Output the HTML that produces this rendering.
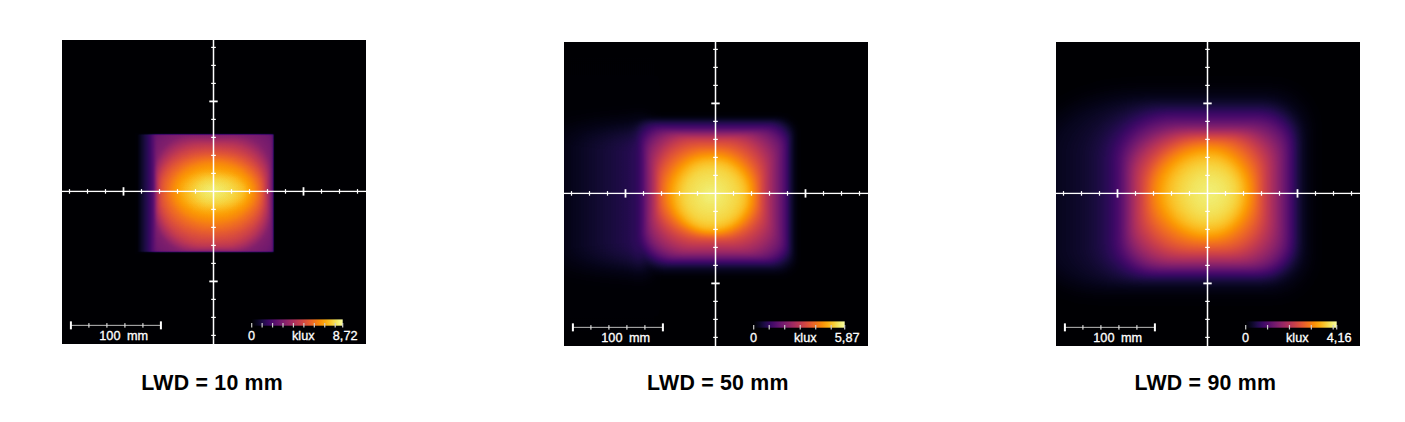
<!DOCTYPE html>
<html><head><meta charset="utf-8"><style>
html,body{margin:0;padding:0;background:#fff;}
body{width:1405px;height:422px;position:relative;overflow:hidden;font-family:"Liberation Sans", sans-serif;}
.lbl{position:absolute;top:370.8px;font-weight:bold;font-size:21.33px;letter-spacing:0.22px;color:#000;white-space:nowrap;}
</style></head><body>
<div style="position:absolute;left:62px;top:40px;width:304px;height:304px;">
<svg width="304" height="304" viewBox="0 0 304 304" style="display:block">
<defs>
<filter id="cm1" filterUnits="userSpaceOnUse" x="0" y="0" width="304" height="304" color-interpolation-filters="sRGB">
<feComponentTransfer><feFuncR type="table" tableValues="0.001 0.006 0.014 0.026 0.042 0.061 0.082 0.105 0.129 0.156 0.183 0.211 0.238 0.265 0.291 0.316 0.342 0.367 0.391 0.416 0.441 0.466 0.491 0.516 0.541 0.566 0.591 0.616 0.640 0.665 0.689 0.712 0.736 0.758 0.781 0.802 0.822 0.842 0.861 0.878 0.894 0.909 0.923 0.936 0.947 0.957 0.965 0.973 0.978 0.983 0.986 0.988 0.988 0.987 0.984 0.980 0.975 0.968 0.961 0.953 0.948 0.947 0.955 0.971 0.988"/><feFuncG type="table" tableValues="0.000 0.005 0.011 0.019 0.028 0.037 0.043 0.047 0.047 0.045 0.040 0.037 0.037 0.040 0.046 0.053 0.062 0.072 0.081 0.090 0.099 0.108 0.117 0.126 0.135 0.144 0.153 0.162 0.171 0.182 0.192 0.204 0.216 0.229 0.243 0.259 0.275 0.293 0.312 0.332 0.353 0.376 0.399 0.424 0.449 0.475 0.502 0.530 0.558 0.587 0.616 0.645 0.675 0.706 0.736 0.767 0.798 0.829 0.859 0.889 0.917 0.943 0.966 0.985 0.998"/><feFuncB type="table" tableValues="0.014 0.039 0.072 0.106 0.141 0.178 0.215 0.253 0.291 0.325 0.355 0.379 0.396 0.409 0.419 0.425 0.429 0.432 0.433 0.433 0.432 0.429 0.426 0.421 0.415 0.408 0.400 0.391 0.381 0.370 0.358 0.344 0.330 0.315 0.300 0.283 0.266 0.249 0.231 0.212 0.194 0.175 0.155 0.135 0.115 0.095 0.074 0.053 0.035 0.025 0.026 0.040 0.065 0.096 0.130 0.166 0.206 0.250 0.298 0.351 0.411 0.475 0.540 0.602 0.645"/></feComponentTransfer>
</filter>
<clipPath id="cp1"><rect x="0" y="0" width="304" height="304"/></clipPath>
<filter id="bl1" filterUnits="userSpaceOnUse" x="-60" y="-60" width="424" height="424" color-interpolation-filters="sRGB"><feGaussianBlur stdDeviation="1.8"/></filter>
<linearGradient id="mx1" gradientUnits="userSpaceOnUse" x1="0" x2="304" y1="0" y2="0"><stop offset="0.0000" stop-color="#000000"/><stop offset="0.2253" stop-color="#000000"/><stop offset="0.2319" stop-color="#010101"/><stop offset="0.2336" stop-color="#030303"/><stop offset="0.2352" stop-color="#060606"/><stop offset="0.2368" stop-color="#0c0c0c"/><stop offset="0.2385" stop-color="#171717"/><stop offset="0.2401" stop-color="#282828"/><stop offset="0.2418" stop-color="#404040"/><stop offset="0.2434" stop-color="#5e5e5e"/><stop offset="0.2467" stop-color="#a1a1a1"/><stop offset="0.2484" stop-color="#bfbfbf"/><stop offset="0.2500" stop-color="#d7d7d7"/><stop offset="0.2516" stop-color="#e8e8e8"/><stop offset="0.2533" stop-color="#f3f3f3"/><stop offset="0.2549" stop-color="#f9f9f9"/><stop offset="0.2566" stop-color="#fcfcfc"/><stop offset="0.2599" stop-color="#ffffff"/><stop offset="0.2862" stop-color="#ffffff"/><stop offset="0.6908" stop-color="#fefefe"/><stop offset="0.6924" stop-color="#f9f9f9"/><stop offset="0.6941" stop-color="#e0e0e0"/><stop offset="0.6957" stop-color="#a1a1a1"/><stop offset="0.6974" stop-color="#4f4f4f"/><stop offset="0.6990" stop-color="#171717"/><stop offset="0.7007" stop-color="#040404"/><stop offset="0.7023" stop-color="#000000"/><stop offset="1.0000" stop-color="#000000"/></linearGradient>
<linearGradient id="my1" gradientUnits="userSpaceOnUse" x1="0" x2="0" y1="0" y2="304"><stop offset="0.0000" stop-color="#000000"/><stop offset="0.3043" stop-color="#000000"/><stop offset="0.3059" stop-color="#040404"/><stop offset="0.3076" stop-color="#171717"/><stop offset="0.3092" stop-color="#4f4f4f"/><stop offset="0.3109" stop-color="#a1a1a1"/><stop offset="0.3125" stop-color="#e0e0e0"/><stop offset="0.3141" stop-color="#f9f9f9"/><stop offset="0.3158" stop-color="#fefefe"/><stop offset="0.3273" stop-color="#ffffff"/><stop offset="0.6908" stop-color="#ffffff"/><stop offset="0.6924" stop-color="#fdfdfd"/><stop offset="0.6941" stop-color="#f3f3f3"/><stop offset="0.6957" stop-color="#cbcbcb"/><stop offset="0.6990" stop-color="#343434"/><stop offset="0.7007" stop-color="#0c0c0c"/><stop offset="0.7023" stop-color="#020202"/><stop offset="0.7039" stop-color="#000000"/><stop offset="1.0000" stop-color="#000000"/></linearGradient>
</defs>
<g clip-path="url(#cp1)">
<g filter="url(#cm1)" style="isolation:isolate">
<rect x="0" y="0" width="304" height="304" fill="#000"/>
<g filter="url(#bl1)" style="isolation:isolate"><rect x="-60" y="-60" width="424" height="424" fill="#000"/><path d="M95.41 80.16H211.09A3.24 3.68 0 0 1 214.33 83.84V220.64A3.24 3.78 0 0 1 211.09 224.42H95.41A3.06 3.78 0 0 1 92.35 220.64V83.84A3.06 3.68 0 0 1 95.41 80.16Z" fill="#030303"/><path d="M95.57 80.88H210.82A3.34 3.76 0 0 1 214.15 84.64V219.78A3.34 3.86 0 0 1 210.82 223.64H95.57A3.16 3.86 0 0 1 92.41 219.78V84.64A3.16 3.76 0 0 1 95.57 80.88Z" fill="#050505"/><path d="M95.67 81.37H210.54A3.43 3.85 0 0 1 213.97 85.21V219.20A3.43 3.95 0 0 1 210.54 223.16H95.67A3.26 3.95 0 0 1 92.41 219.20V85.21A3.26 3.85 0 0 1 95.67 81.37Z" fill="#080808"/><path d="M95.82 81.79H210.32A3.53 3.94 0 0 1 213.85 85.72V218.63A3.53 4.04 0 0 1 210.32 222.68H95.82A3.35 4.04 0 0 1 92.47 218.63V85.72A3.35 3.94 0 0 1 95.82 81.79Z" fill="#0a0a0a"/><path d="M95.92 82.21H210.11A3.62 4.03 0 0 1 213.73 86.24V218.17A3.62 4.14 0 0 1 210.11 222.32H95.92A3.45 4.14 0 0 1 92.47 218.17V86.24A3.45 4.03 0 0 1 95.92 82.21Z" fill="#0d0d0d"/><path d="M96.07 82.57H209.89A3.72 4.12 0 0 1 213.61 86.69V217.72A3.72 4.24 0 0 1 209.89 221.96H96.07A3.54 4.24 0 0 1 92.53 217.72V86.69A3.54 4.12 0 0 1 96.07 82.57Z" fill="#0f0f0f"/><path d="M96.17 82.87H209.73A3.82 4.22 0 0 1 213.55 87.09V217.26A3.82 4.33 0 0 1 209.73 221.60H96.17A3.64 4.33 0 0 1 92.53 217.26V87.09A3.64 4.22 0 0 1 96.17 82.87Z" fill="#121212"/><path d="M96.33 83.23H209.51A3.92 4.31 0 0 1 213.43 87.54V216.81A3.92 4.43 0 0 1 209.51 221.23H96.33A3.74 4.43 0 0 1 92.59 216.81V87.54A3.74 4.31 0 0 1 96.33 83.23Z" fill="#141414"/><path d="M96.43 83.53H209.36A4.02 4.41 0 0 1 213.37 87.93V216.41A4.02 4.53 0 0 1 209.36 220.93H96.43A3.84 4.53 0 0 1 92.59 216.41V87.93A3.84 4.41 0 0 1 96.43 83.53Z" fill="#171717"/><path d="M96.52 83.83H209.14A4.11 4.50 0 0 1 213.25 88.32V216.01A4.11 4.62 0 0 1 209.14 220.63H96.52A3.93 4.62 0 0 1 92.59 216.01V88.32A3.93 4.50 0 0 1 96.52 83.83Z" fill="#1a1a1a"/><path d="M96.68 84.13H208.93A4.20 4.59 0 0 1 213.13 88.72V215.62A4.20 4.72 0 0 1 208.93 220.33H96.68A4.03 4.72 0 0 1 92.65 215.62V88.72A4.03 4.59 0 0 1 96.68 84.13Z" fill="#1c1c1c"/><path d="M96.78 84.43H208.77A4.30 4.68 0 0 1 213.07 89.11V215.22A4.30 4.81 0 0 1 208.77 220.03H96.78A4.13 4.81 0 0 1 92.65 215.22V89.11A4.13 4.68 0 0 1 96.78 84.43Z" fill="#1f1f1f"/><path d="M96.88 84.73H208.55A4.40 4.77 0 0 1 212.95 89.50V214.83A4.40 4.90 0 0 1 208.55 219.73H96.88A4.22 4.90 0 0 1 92.65 214.83V89.50A4.22 4.77 0 0 1 96.88 84.73Z" fill="#212121"/><path d="M97.03 85.03H208.40A4.49 4.86 0 0 1 212.89 89.89V214.44A4.49 5.00 0 0 1 208.40 219.43H97.03A4.32 5.00 0 0 1 92.71 214.44V89.89A4.32 4.86 0 0 1 97.03 85.03Z" fill="#242424"/><path d="M97.13 85.33H208.18A4.59 4.95 0 0 1 212.77 90.27V214.05A4.59 5.09 0 0 1 208.18 219.13H97.13A4.42 5.09 0 0 1 92.71 214.05V90.27A4.42 4.95 0 0 1 97.13 85.33Z" fill="#262626"/><path d="M97.28 85.63H207.97A4.68 5.03 0 0 1 212.65 90.66V213.66A4.68 5.18 0 0 1 207.97 218.83H97.28A4.51 5.18 0 0 1 92.77 213.66V90.66A4.51 5.03 0 0 1 97.28 85.63Z" fill="#292929"/><path d="M97.38 85.99H207.81A4.78 5.12 0 0 1 212.59 91.10V213.21A4.78 5.26 0 0 1 207.81 218.47H97.38A4.61 5.26 0 0 1 92.77 213.21V91.10A4.61 5.12 0 0 1 97.38 85.99Z" fill="#2b2b2b"/><path d="M97.48 86.29H207.60A4.87 5.20 0 0 1 212.47 91.49V212.82A4.87 5.35 0 0 1 207.60 218.17H97.48A4.71 5.35 0 0 1 92.77 212.82V91.49A4.71 5.20 0 0 1 97.48 86.29Z" fill="#2e2e2e"/><path d="M97.63 86.65H207.39A4.96 5.28 0 0 1 212.35 91.93V212.44A4.96 5.44 0 0 1 207.39 217.87H97.63A4.80 5.44 0 0 1 92.83 212.44V91.93A4.80 5.28 0 0 1 97.63 86.65Z" fill="#303030"/><path d="M97.73 87.07H207.18A5.05 5.35 0 0 1 212.23 92.42V212.00A5.05 5.52 0 0 1 207.18 217.51H97.73A4.90 5.52 0 0 1 92.83 212.00V92.42A4.90 5.35 0 0 1 97.73 87.07Z" fill="#333333"/><path d="M97.88 87.49H206.91A5.14 5.42 0 0 1 212.05 92.91V211.56A5.14 5.60 0 0 1 206.91 217.15H97.88A4.99 5.60 0 0 1 92.89 211.56V92.91A4.99 5.42 0 0 1 97.88 87.49Z" fill="#363636"/><path d="M97.98 87.91H206.65A5.22 5.49 0 0 1 211.87 93.40V211.12A5.22 5.68 0 0 1 206.65 216.79H97.98A5.09 5.68 0 0 1 92.89 211.12V93.40A5.09 5.49 0 0 1 97.98 87.91Z" fill="#383838"/><path d="M98.13 88.33H206.38A5.31 5.56 0 0 1 211.69 93.89V210.68A5.31 5.75 0 0 1 206.38 216.43H98.13A5.18 5.75 0 0 1 92.95 210.68V93.89A5.18 5.56 0 0 1 98.13 88.33Z" fill="#3b3b3b"/><path d="M98.23 88.75H206.12A5.39 5.63 0 0 1 211.51 94.38V210.30A5.39 5.83 0 0 1 206.12 216.13H98.23A5.28 5.83 0 0 1 92.95 210.30V94.38A5.28 5.63 0 0 1 98.23 88.75Z" fill="#3d3d3d"/><path d="M98.38 89.23H205.85A5.48 5.69 0 0 1 211.33 94.92V209.86A5.48 5.91 0 0 1 205.85 215.77H98.38A5.37 5.91 0 0 1 93.01 209.86V94.92A5.37 5.69 0 0 1 98.38 89.23Z" fill="#404040"/><path d="M98.48 89.65H205.54A5.55 5.75 0 0 1 211.09 95.40V209.48A5.55 5.99 0 0 1 205.54 215.47H98.48A5.47 5.99 0 0 1 93.01 209.48V95.40A5.47 5.75 0 0 1 98.48 89.65Z" fill="#424242"/><path d="M98.63 90.07H205.28A5.63 5.82 0 0 1 210.91 95.89V209.10A5.63 6.07 0 0 1 205.28 215.17H98.63A5.56 6.07 0 0 1 93.07 209.10V95.89A5.56 5.82 0 0 1 98.63 90.07Z" fill="#454545"/><path d="M98.73 90.55H204.96A5.71 5.87 0 0 1 210.67 96.42V208.67A5.71 6.14 0 0 1 204.96 214.81H98.73A5.66 6.14 0 0 1 93.07 208.67V96.42A5.66 5.87 0 0 1 98.73 90.55Z" fill="#474747"/><path d="M98.88 90.97H204.70A5.79 5.93 0 0 1 210.49 96.90V208.30A5.79 6.22 0 0 1 204.70 214.51H98.88A5.75 6.22 0 0 1 93.13 208.30V96.90A5.75 5.93 0 0 1 98.88 90.97Z" fill="#4a4a4a"/><path d="M98.98 91.45H204.38A5.86 5.98 0 0 1 210.25 97.44V207.92A5.86 6.29 0 0 1 204.38 214.21H98.98A5.85 6.29 0 0 1 93.13 207.92V97.44A5.85 5.98 0 0 1 98.98 91.45Z" fill="#4c4c4c"/><path d="M103.90 91.93H199.30A10.71 10.88 0 0 1 210.01 102.81V202.38A10.71 11.47 0 0 1 199.30 213.85H103.90A10.71 11.47 0 0 1 93.19 202.38V102.81A10.71 10.88 0 0 1 103.90 91.93Z" fill="#4f4f4f"/><path d="M108.77 92.47H194.26A15.51 15.69 0 0 1 209.77 108.16V196.95A15.51 16.60 0 0 1 194.26 213.55H108.77A15.58 16.60 0 0 1 93.19 196.95V108.16A15.58 15.69 0 0 1 108.77 92.47Z" fill="#525252"/><path d="M113.67 93.01H189.25A20.28 20.40 0 0 1 209.53 113.41V191.57A20.28 21.68 0 0 1 189.25 213.25H113.67A20.42 21.68 0 0 1 93.25 191.57V113.41A20.42 20.40 0 0 1 113.67 93.01Z" fill="#545454"/><path d="M118.54 93.55H184.29A25.00 25.02 0 0 1 209.29 118.58V186.20A25.00 26.69 0 0 1 184.29 212.89H118.54A25.28 26.69 0 0 1 93.25 186.20V118.58A25.28 25.02 0 0 1 118.54 93.55Z" fill="#575757"/><path d="M123.43 94.15H179.37A29.68 29.53 0 0 1 209.05 123.68V180.92A29.68 31.67 0 0 1 179.37 212.59H123.43A30.12 31.67 0 0 1 93.31 180.92V123.68A30.12 29.53 0 0 1 123.43 94.15Z" fill="#595959"/><path d="M128.28 94.81H174.48A34.33 33.89 0 0 1 208.81 128.70V175.67A34.33 36.56 0 0 1 174.48 212.23H128.28A34.97 36.56 0 0 1 93.31 175.67V128.70A34.97 33.89 0 0 1 128.28 94.81Z" fill="#5c5c5c"/><path d="M129.14 95.47H173.57A34.99 34.29 0 0 1 208.57 129.77V174.66A34.99 37.21 0 0 1 173.57 211.87H129.14A35.77 37.21 0 0 1 93.37 174.66V129.77A35.77 34.29 0 0 1 129.14 95.47Z" fill="#5e5e5e"/><path d="M129.99 96.13H172.67A35.66 34.68 0 0 1 208.33 130.81V173.66A35.66 37.85 0 0 1 172.67 211.51H129.99A36.56 37.85 0 0 1 93.43 173.66V130.81A36.56 34.68 0 0 1 129.99 96.13Z" fill="#616161"/><path d="M130.85 96.85H171.75A36.28 35.00 0 0 1 208.03 131.85V172.67A36.28 38.47 0 0 1 171.75 211.15H130.85A37.36 38.47 0 0 1 93.49 172.67V131.85A37.36 35.00 0 0 1 130.85 96.85Z" fill="#636363"/><path d="M131.70 97.57H170.86A36.92 35.31 0 0 1 207.79 132.88V171.70A36.92 39.09 0 0 1 170.86 210.79H131.70A38.15 39.09 0 0 1 93.55 171.70V132.88A38.15 35.31 0 0 1 131.70 97.57Z" fill="#666666"/><path d="M132.55 98.29H169.96A37.52 35.59 0 0 1 207.49 133.88V170.73A37.52 39.70 0 0 1 169.96 210.43H132.55A38.94 39.70 0 0 1 93.61 170.73V133.88A38.94 35.59 0 0 1 132.55 98.29Z" fill="#696969"/><path d="M133.41 98.95H169.07A38.12 35.89 0 0 1 207.19 134.85V169.77A38.12 40.30 0 0 1 169.07 210.07H133.41A39.68 40.30 0 0 1 93.73 169.77V134.85A39.68 35.89 0 0 1 133.41 98.95Z" fill="#6b6b6b"/><path d="M134.29 99.61H168.20A38.74 36.18 0 0 1 206.95 135.79V168.80A38.74 40.84 0 0 1 168.20 209.65H134.29A40.38 40.84 0 0 1 93.91 168.80V135.79A40.38 36.18 0 0 1 134.29 99.61Z" fill="#6e6e6e"/><path d="M135.17 100.21H167.33A39.32 36.49 0 0 1 206.65 136.70V167.87A39.32 41.42 0 0 1 167.33 209.29H135.17A41.08 41.42 0 0 1 94.09 167.87V136.70A41.08 36.49 0 0 1 135.17 100.21Z" fill="#707070"/><path d="M136.06 100.81H166.46A39.89 36.78 0 0 1 206.35 137.60V166.94A39.89 41.99 0 0 1 166.46 208.93H136.06A41.72 41.99 0 0 1 94.33 166.94V137.60A41.72 36.78 0 0 1 136.06 100.81Z" fill="#737373"/><path d="M136.95 101.42H165.60A40.45 37.06 0 0 1 206.05 138.47V166.01A40.45 42.50 0 0 1 165.60 208.51H136.95A42.32 42.50 0 0 1 94.63 166.01V138.47A42.32 37.06 0 0 1 136.95 101.42Z" fill="#757575"/><path d="M137.84 102.02H164.75A41.00 37.32 0 0 1 205.75 139.33V165.09A41.00 43.00 0 0 1 164.75 208.09H137.84A42.91 43.00 0 0 1 94.93 165.09V139.33A42.91 37.32 0 0 1 137.84 102.02Z" fill="#787878"/><path d="M138.70 102.62H163.91A41.54 37.56 0 0 1 205.45 140.17V164.18A41.54 43.48 0 0 1 163.91 207.67H138.70A43.53 43.48 0 0 1 95.17 164.18V140.17A43.53 37.56 0 0 1 138.70 102.62Z" fill="#7a7a7a"/><path d="M139.56 103.28H163.07A42.07 37.73 0 0 1 205.15 141.01V163.28A42.07 43.91 0 0 1 163.07 207.19H139.56A44.15 43.91 0 0 1 95.41 163.28V141.01A44.15 37.73 0 0 1 139.56 103.28Z" fill="#7d7d7d"/><path d="M140.41 103.94H162.24A42.55 37.89 0 0 1 204.79 141.83V162.37A42.55 44.28 0 0 1 162.24 206.65H140.41A44.76 44.28 0 0 1 95.65 162.37V141.83A44.76 37.89 0 0 1 140.41 103.94Z" fill="#808080"/><path d="M141.02 104.66H161.65A42.84 37.78 0 0 1 204.49 142.44V161.69A42.84 44.30 0 0 1 161.65 205.99H141.02A45.12 44.30 0 0 1 95.89 161.69V142.44A45.12 37.78 0 0 1 141.02 104.66Z" fill="#828282"/><path d="M141.63 105.38H161.05A43.07 37.66 0 0 1 204.13 143.03V161.01A43.07 44.25 0 0 1 161.05 205.27H141.63A45.43 44.25 0 0 1 96.19 161.01V143.03A45.43 37.66 0 0 1 141.63 105.38Z" fill="#858585"/><path d="M142.22 106.16H160.47A43.30 37.47 0 0 1 203.77 143.63V160.34A43.30 44.14 0 0 1 160.47 204.49H142.22A45.79 44.14 0 0 1 96.43 160.34V143.63A45.79 37.47 0 0 1 142.22 106.16Z" fill="#878787"/><path d="M142.82 106.94H159.90A43.57 37.26 0 0 1 203.47 144.20V159.68A43.57 43.97 0 0 1 159.90 203.65H142.82A46.09 43.97 0 0 1 96.73 159.68V144.20A46.09 37.26 0 0 1 142.82 106.94Z" fill="#8a8a8a"/><path d="M143.41 107.78H159.33A43.78 36.99 0 0 1 203.11 144.77V159.02A43.78 43.73 0 0 1 159.33 202.75H143.41A46.38 43.73 0 0 1 97.03 159.02V144.77A46.38 36.99 0 0 1 143.41 107.78Z" fill="#8c8c8c"/><path d="M144.01 108.56H158.76A43.99 36.76 0 0 1 202.75 145.32V158.36A43.99 43.37 0 0 1 158.76 201.73H144.01A46.62 43.37 0 0 1 97.39 158.36V145.32A46.62 36.76 0 0 1 144.01 108.56Z" fill="#8f8f8f"/><path d="M144.61 109.40H158.20A44.18 36.45 0 0 1 202.39 145.85V157.72A44.18 42.98 0 0 1 158.20 200.70H144.61A46.79 42.98 0 0 1 97.81 157.72V145.85A46.79 36.45 0 0 1 144.61 109.40Z" fill="#919191"/><path d="M145.20 110.24H157.65A44.37 36.13 0 0 1 202.03 146.37V157.09A44.37 42.47 0 0 1 157.65 199.56H145.20A46.96 42.47 0 0 1 98.23 157.09V146.37A46.96 36.13 0 0 1 145.20 110.24Z" fill="#949494"/><path d="M145.79 111.08H157.11A44.56 35.80 0 0 1 201.67 146.88V156.48A44.56 41.89 0 0 1 157.11 198.36H145.79A47.02 41.89 0 0 1 98.77 156.48V146.88A47.02 35.80 0 0 1 145.79 111.08Z" fill="#969696"/><path d="M146.37 111.86H156.56A44.68 35.50 0 0 1 201.24 147.36V155.89A44.68 41.28 0 0 1 156.56 197.16H146.37A47.06 41.28 0 0 1 99.31 155.89V147.36A47.06 35.50 0 0 1 146.37 111.86Z" fill="#999999"/><path d="M146.94 112.64H156.03A44.79 35.18 0 0 1 200.82 147.82V155.32A44.79 40.64 0 0 1 156.03 195.96H146.94A47.09 40.64 0 0 1 99.85 155.32V147.82A47.09 35.18 0 0 1 146.94 112.64Z" fill="#9c9c9c"/><path d="M147.51 113.42H155.50A44.84 34.85 0 0 1 200.34 148.27V154.79A44.84 40.10 0 0 1 155.50 194.88H147.51A47.00 40.10 0 0 1 100.51 154.79V148.27A47.00 34.85 0 0 1 147.51 113.42Z" fill="#9e9e9e"/><path d="M148.07 114.14H154.98A44.89 34.56 0 0 1 199.86 148.70V154.28A44.89 39.53 0 0 1 154.98 193.80H148.07A46.90 39.53 0 0 1 101.17 154.28V148.70A46.90 34.56 0 0 1 148.07 114.14Z" fill="#a1a1a1"/><path d="M148.62 114.86H154.47A44.92 34.25 0 0 1 199.38 149.11V153.79A44.92 38.94 0 0 1 154.47 192.72H148.62A46.72 38.94 0 0 1 101.90 153.79V149.11A46.72 34.25 0 0 1 148.62 114.86Z" fill="#a3a3a3"/><path d="M149.15 115.52H153.96A44.88 33.99 0 0 1 198.84 149.51V153.32A44.88 38.38 0 0 1 153.96 191.70H149.15A46.48 38.38 0 0 1 102.68 153.32V149.51A46.48 33.99 0 0 1 149.15 115.52Z" fill="#a6a6a6"/><path d="M149.67 116.24H153.47A44.78 33.66 0 0 1 198.24 149.90V152.87A44.78 37.75 0 0 1 153.47 190.62H149.67A46.22 37.75 0 0 1 103.46 152.87V149.90A46.22 33.66 0 0 1 149.67 116.24Z" fill="#a8a8a8"/><path d="M150.18 116.96H152.98A44.72 33.31 0 0 1 197.70 150.27V152.45A44.72 37.09 0 0 1 152.98 189.54H150.18A45.88 37.09 0 0 1 104.30 152.45V150.27A45.88 33.31 0 0 1 150.18 116.96Z" fill="#ababab"/><path d="M150.67 117.68H152.51A44.59 32.94 0 0 1 197.10 150.63V152.04A44.59 36.42 0 0 1 152.51 188.46H150.67A45.53 36.42 0 0 1 105.14 152.04V150.63A45.53 32.94 0 0 1 150.67 117.68Z" fill="#adadad"/><path d="M151.14 118.40H152.05A44.39 32.57 0 0 1 196.44 150.97V151.66A44.39 35.66 0 0 1 152.05 187.32H151.14A45.17 35.66 0 0 1 105.98 151.66V150.97A45.17 32.57 0 0 1 151.14 118.40Z" fill="#b0b0b0"/><path d="M151.60 119.18H151.60A44.18 32.12 0 0 1 195.78 151.30V151.30A44.18 34.94 0 0 1 151.60 186.24H151.60A44.78 34.94 0 0 1 106.82 151.30V151.30A44.78 32.12 0 0 1 151.60 119.18Z" fill="#b2b2b2"/><path d="M151.60 119.96H151.60A43.52 31.34 0 0 1 195.12 151.30V151.30A43.52 33.80 0 0 1 151.60 185.10H151.60A43.88 33.80 0 0 1 107.72 151.30V151.30A43.88 31.34 0 0 1 151.60 119.96Z" fill="#b5b5b5"/><path d="M151.60 120.80H151.60A42.80 30.50 0 0 1 194.40 151.30V151.30A42.80 32.60 0 0 1 151.60 183.90H151.60A42.98 32.60 0 0 1 108.62 151.30V151.30A42.98 30.50 0 0 1 151.60 120.80Z" fill="#b8b8b8"/><path d="M151.60 121.77H151.60A42.02 29.53 0 0 1 193.62 151.30V151.30A42.02 31.46 0 0 1 151.60 182.76H151.60A42.02 31.46 0 0 1 109.58 151.30V151.30A42.02 29.53 0 0 1 151.60 121.77Z" fill="#bababa"/><path d="M151.60 122.79H151.60A41.24 28.51 0 0 1 192.84 151.30V151.30A41.24 30.20 0 0 1 151.60 181.50H151.60A41.00 30.20 0 0 1 110.60 151.30V151.30A41.00 28.51 0 0 1 151.60 122.79Z" fill="#bdbdbd"/><path d="M151.60 123.87H151.60A40.46 27.43 0 0 1 192.06 151.30V151.30A40.46 28.93 0 0 1 151.60 180.23H151.60A39.98 28.93 0 0 1 111.62 151.30V151.30A39.98 27.43 0 0 1 151.60 123.87Z" fill="#bfbfbf"/><path d="M151.60 125.01H151.60A39.62 26.29 0 0 1 191.22 151.30V151.30A39.62 27.67 0 0 1 151.60 178.97H151.60A38.90 27.67 0 0 1 112.70 151.30V151.30A38.90 26.29 0 0 1 151.60 125.01Z" fill="#c2c2c2"/><path d="M151.60 126.21H151.60A38.66 25.09 0 0 1 190.26 151.30V151.30A38.66 26.41 0 0 1 151.60 177.71H151.60A37.82 26.41 0 0 1 113.78 151.30V151.30A37.82 25.09 0 0 1 151.60 126.21Z" fill="#c4c4c4"/><path d="M151.60 127.41H151.60A37.64 23.89 0 0 1 189.24 151.30V151.30A37.64 25.09 0 0 1 151.60 176.39H151.60A36.62 25.09 0 0 1 114.98 151.30V151.30A36.62 23.89 0 0 1 151.60 127.41Z" fill="#c7c7c7"/><path d="M151.60 128.61H151.60A36.62 22.69 0 0 1 188.22 151.30V151.30A36.62 23.83 0 0 1 151.60 175.13H151.60A35.42 23.83 0 0 1 116.18 151.30V151.30A35.42 22.69 0 0 1 151.60 128.61Z" fill="#c9c9c9"/><path d="M151.60 129.75H151.60A35.54 21.55 0 0 1 187.14 151.30V151.30A35.54 22.63 0 0 1 151.60 173.93H151.60A34.16 22.63 0 0 1 117.44 151.30V151.30A34.16 21.55 0 0 1 151.60 129.75Z" fill="#cccccc"/><path d="M151.60 130.77H151.60A34.52 20.53 0 0 1 186.12 151.30V151.30A34.52 21.43 0 0 1 151.60 172.73H151.60A32.84 21.43 0 0 1 118.76 151.30V151.30A32.84 20.53 0 0 1 151.60 130.77Z" fill="#cfcfcf"/><path d="M151.60 131.79H151.60A33.62 19.51 0 0 1 185.22 151.30V151.30A33.62 20.35 0 0 1 151.60 171.65H151.60A31.46 20.35 0 0 1 120.14 151.30V151.30A31.46 19.51 0 0 1 151.60 131.79Z" fill="#d1d1d1"/><path d="M151.60 132.69H151.60A32.72 18.61 0 0 1 184.32 151.30V151.30A32.72 19.33 0 0 1 151.60 170.63H151.60A30.02 19.33 0 0 1 121.58 151.30V151.30A30.02 18.61 0 0 1 151.60 132.69Z" fill="#d4d4d4"/><path d="M151.60 133.59H151.60A31.82 17.71 0 0 1 183.42 151.30V151.30A31.82 18.37 0 0 1 151.60 169.67H151.60A28.45 18.37 0 0 1 123.15 151.30V151.30A28.45 17.71 0 0 1 151.60 133.59Z" fill="#d6d6d6"/><path d="M151.60 134.49H151.60A30.74 16.81 0 0 1 182.34 151.30V151.30A30.74 17.35 0 0 1 151.60 168.65H151.60A26.89 17.35 0 0 1 124.71 151.30V151.30A26.89 16.81 0 0 1 151.60 134.49Z" fill="#d9d9d9"/><path d="M151.60 135.39H151.60A29.23 15.91 0 0 1 180.83 151.30V151.30A29.23 16.39 0 0 1 151.60 167.69H151.60A25.15 16.39 0 0 1 126.45 151.30V151.30A25.15 15.91 0 0 1 151.60 135.39Z" fill="#dbdbdb"/><path d="M151.60 136.29H151.60A27.49 15.01 0 0 1 179.09 151.30V151.30A27.49 15.37 0 0 1 151.60 166.67H151.60A23.47 15.37 0 0 1 128.13 151.30V151.30A23.47 15.01 0 0 1 151.60 136.29Z" fill="#dedede"/><path d="M151.60 137.25H151.60A25.51 14.05 0 0 1 177.11 151.30V151.30A25.51 14.29 0 0 1 151.60 165.59H151.60A21.73 14.29 0 0 1 129.87 151.30V151.30A21.73 14.05 0 0 1 151.60 137.25Z" fill="#e0e0e0"/><path d="M151.60 138.33H151.60A23.29 12.97 0 0 1 174.89 151.30V151.30A23.29 13.09 0 0 1 151.60 164.39H151.60A19.87 13.09 0 0 1 131.73 151.30V151.30A19.87 12.97 0 0 1 151.60 138.33Z" fill="#e3e3e3"/><path d="M151.60 139.53H151.60A20.77 11.77 0 0 1 172.37 151.30V151.30A20.77 11.83 0 0 1 151.60 163.13H151.60A17.95 11.83 0 0 1 133.65 151.30V151.30A17.95 11.77 0 0 1 151.60 139.53Z" fill="#e6e6e6"/><path d="M151.60 141.09H151.60A17.95 10.21 0 0 1 169.55 151.30V151.30A17.95 10.21 0 0 1 151.60 161.51H151.60A15.85 10.21 0 0 1 135.75 151.30V151.30A15.85 10.21 0 0 1 151.60 141.09Z" fill="#e8e8e8"/><path d="M151.60 142.72H151.60A14.71 8.58 0 0 1 166.31 151.30V151.30A14.71 8.46 0 0 1 151.60 159.76H151.60A13.45 8.46 0 0 1 138.15 151.30V151.30A13.45 8.58 0 0 1 151.60 142.72Z" fill="#ebebeb"/><path d="M151.60 144.52H151.60A11.29 6.78 0 0 1 162.89 151.30V151.30A11.29 6.60 0 0 1 151.60 157.90H151.60A10.51 6.60 0 0 1 141.09 151.30V151.30A10.51 6.78 0 0 1 151.60 144.52Z" fill="#ededed"/><path d="M151.60 146.56H151.60A7.50 4.74 0 0 1 159.10 151.30V151.30A7.50 4.50 0 0 1 151.60 155.80H151.60A7.14 4.50 0 0 1 144.46 151.30V151.30A7.14 4.74 0 0 1 151.60 146.56Z" fill="#f0f0f0"/><path d="M151.60 149.20H151.60A2.94 2.10 0 0 1 154.54 151.30V151.30A2.94 1.86 0 0 1 151.60 153.16H151.60A3.00 1.86 0 0 1 148.60 151.30V151.30A3.00 2.10 0 0 1 151.60 149.20Z" fill="#f2f2f2"/><path d="M151.60 151.30H151.60A0.00 0.00 0 0 1 151.60 151.30V151.30A0.00 0.00 0 0 1 151.60 151.30H151.60A0.00 0.00 0 0 1 151.60 151.30V151.30A0.00 0.00 0 0 1 151.60 151.30Z" fill="#f5f5f5"/><path d="M151.60 151.30H151.60A0.00 0.00 0 0 1 151.60 151.30V151.30A0.00 0.00 0 0 1 151.60 151.30H151.60A0.00 0.00 0 0 1 151.60 151.30V151.30A0.00 0.00 0 0 1 151.60 151.30Z" fill="#f7f7f7"/><linearGradient id="sh1" x1="0" x2="1" y1="0" y2="0"><stop offset="0.0000" stop-color="#000000"/><stop offset="0.2083" stop-color="#000000"/><stop offset="0.3333" stop-color="#0d0d0d"/><stop offset="0.5000" stop-color="#1a1a1a"/><stop offset="0.6667" stop-color="#262626"/><stop offset="0.8333" stop-color="#383838"/><stop offset="0.9583" stop-color="#474747"/><stop offset="1.0000" stop-color="#474747"/></linearGradient><rect x="70" y="80" width="24" height="144" fill="url(#sh1)" style="mix-blend-mode:lighten"/></g>
<g style="isolation:isolate;mix-blend-mode:multiply"><rect width="304" height="304" fill="url(#mx1)"/><rect width="304" height="304" fill="url(#my1)" style="mix-blend-mode:multiply"/></g>
</g>
<rect x="0" y="150.75" width="304" height="1.3" fill="#fff"/>
<rect x="150.75" y="0" width="1.5" height="304" fill="#fff"/>
<rect x="6.90" y="149.10" width="1.2" height="4.6" fill="#fff"/>
<rect x="149.20" y="6.80" width="4.6" height="1.2" fill="#fff"/>
<rect x="24.90" y="149.10" width="1.2" height="4.6" fill="#fff"/>
<rect x="149.20" y="24.80" width="4.6" height="1.2" fill="#fff"/>
<rect x="42.90" y="149.10" width="1.2" height="4.6" fill="#fff"/>
<rect x="149.20" y="42.80" width="4.6" height="1.2" fill="#fff"/>
<rect x="60.60" y="147.20" width="1.8" height="8.4" fill="#fff"/>
<rect x="147.30" y="60.50" width="8.4" height="1.8" fill="#fff"/>
<rect x="78.90" y="149.10" width="1.2" height="4.6" fill="#fff"/>
<rect x="149.20" y="78.80" width="4.6" height="1.2" fill="#fff"/>
<rect x="96.90" y="149.10" width="1.2" height="4.6" fill="#fff"/>
<rect x="149.20" y="96.80" width="4.6" height="1.2" fill="#fff"/>
<rect x="114.90" y="149.10" width="1.2" height="4.6" fill="#fff"/>
<rect x="149.20" y="114.80" width="4.6" height="1.2" fill="#fff"/>
<rect x="132.90" y="149.10" width="1.2" height="4.6" fill="#fff"/>
<rect x="149.20" y="132.80" width="4.6" height="1.2" fill="#fff"/>
<rect x="168.90" y="149.10" width="1.2" height="4.6" fill="#fff"/>
<rect x="149.20" y="168.80" width="4.6" height="1.2" fill="#fff"/>
<rect x="186.90" y="149.10" width="1.2" height="4.6" fill="#fff"/>
<rect x="149.20" y="186.80" width="4.6" height="1.2" fill="#fff"/>
<rect x="204.90" y="149.10" width="1.2" height="4.6" fill="#fff"/>
<rect x="149.20" y="204.80" width="4.6" height="1.2" fill="#fff"/>
<rect x="222.90" y="149.10" width="1.2" height="4.6" fill="#fff"/>
<rect x="149.20" y="222.80" width="4.6" height="1.2" fill="#fff"/>
<rect x="240.60" y="147.20" width="1.8" height="8.4" fill="#fff"/>
<rect x="147.30" y="240.50" width="8.4" height="1.8" fill="#fff"/>
<rect x="258.90" y="149.10" width="1.2" height="4.6" fill="#fff"/>
<rect x="149.20" y="258.80" width="4.6" height="1.2" fill="#fff"/>
<rect x="276.90" y="149.10" width="1.2" height="4.6" fill="#fff"/>
<rect x="149.20" y="276.80" width="4.6" height="1.2" fill="#fff"/>
<rect x="294.90" y="149.10" width="1.2" height="4.6" fill="#fff"/>
<rect x="149.20" y="294.80" width="4.6" height="1.2" fill="#fff"/>
<rect x="8.9" y="284.85" width="90" height="1" fill="#bbb"/>
<rect x="7.90" y="281.35" width="2" height="8" fill="#fff"/>
<rect x="26.30" y="283.15000000000003" width="1.2" height="4.5" fill="#ddd"/>
<rect x="44.30" y="283.15000000000003" width="1.2" height="4.5" fill="#ddd"/>
<rect x="62.30" y="283.15000000000003" width="1.2" height="4.5" fill="#ddd"/>
<rect x="80.30" y="283.15000000000003" width="1.2" height="4.5" fill="#ddd"/>
<rect x="97.90" y="281.35" width="2" height="8" fill="#fff"/>
<text x="37.3" y="300.1" font-size="12.7" word-spacing="3" fill="#fff" stroke="#fff" stroke-width="0.3" font-family='"Liberation Sans", sans-serif'>100 mm</text>
<linearGradient id="cb1" x1="0" x2="1" y1="0" y2="0"><stop offset="0.0000" stop-color="rgb(0,0,3)"/><stop offset="0.0625" stop-color="rgb(10,7,35)"/><stop offset="0.1250" stop-color="rgb(32,12,74)"/><stop offset="0.1875" stop-color="rgb(60,9,101)"/><stop offset="0.2500" stop-color="rgb(87,15,109)"/><stop offset="0.3125" stop-color="rgb(112,25,110)"/><stop offset="0.3750" stop-color="rgb(137,34,105)"/><stop offset="0.4375" stop-color="rgb(163,43,97)"/><stop offset="0.5000" stop-color="rgb(187,55,84)"/><stop offset="0.5625" stop-color="rgb(209,70,67)"/><stop offset="0.6250" stop-color="rgb(228,90,49)"/><stop offset="0.6875" stop-color="rgb(241,114,29)"/><stop offset="0.7500" stop-color="rgb(249,142,8)"/><stop offset="0.8125" stop-color="rgb(251,172,16)"/><stop offset="0.8750" stop-color="rgb(248,203,52)"/><stop offset="0.9375" stop-color="rgb(241,233,104)"/><stop offset="1.0000" stop-color="rgb(252,254,164)"/></linearGradient>
<rect x="189.7" y="279.4" width="91.0" height="6.3" fill="url(#cb1)"/>
<rect x="189.10" y="283" width="1.2" height="4.5" fill="#ccc"/>
<rect x="199.54" y="283" width="1.2" height="4.5" fill="#ccc"/>
<rect x="209.97" y="283" width="1.2" height="4.5" fill="#ccc"/>
<rect x="220.41" y="283" width="1.2" height="4.5" fill="#ccc"/>
<rect x="230.84" y="283" width="1.2" height="4.5" fill="#ccc"/>
<rect x="241.28" y="283" width="1.2" height="4.5" fill="#ccc"/>
<rect x="251.71" y="283" width="1.2" height="4.5" fill="#ccc"/>
<rect x="262.15" y="283" width="1.2" height="4.5" fill="#ccc"/>
<rect x="272.59" y="283" width="1.2" height="4.5" fill="#ccc"/>
<rect x="280.10" y="283" width="1.2" height="4.5" fill="#ccc"/>
<text x="186" y="300.1" font-size="12.7" fill="#fff" stroke="#fff" stroke-width="0.3" font-family='"Liberation Sans", sans-serif'>0</text>
<text x="230" y="300.1" font-size="12.7" fill="#fff" stroke="#fff" stroke-width="0.3" font-family='"Liberation Sans", sans-serif'>klux</text>
<text x="270.8" y="300.1" font-size="12.7" fill="#fff" stroke="#fff" stroke-width="0.3" font-family='"Liberation Sans", sans-serif'>8,72</text>
</g>
</svg></div>
<div style="position:absolute;left:564px;top:42px;width:304px;height:304px;">
<svg width="304" height="304" viewBox="0 0 304 304" style="display:block">
<defs>
<filter id="cm2" filterUnits="userSpaceOnUse" x="0" y="0" width="304" height="304" color-interpolation-filters="sRGB">
<feComponentTransfer><feFuncR type="table" tableValues="0.001 0.006 0.014 0.026 0.042 0.061 0.082 0.105 0.129 0.156 0.183 0.211 0.238 0.265 0.291 0.316 0.342 0.367 0.391 0.416 0.441 0.466 0.491 0.516 0.541 0.566 0.591 0.616 0.640 0.665 0.689 0.712 0.736 0.758 0.781 0.802 0.822 0.842 0.861 0.878 0.894 0.909 0.923 0.936 0.947 0.957 0.965 0.973 0.978 0.983 0.986 0.988 0.988 0.987 0.984 0.980 0.975 0.968 0.961 0.953 0.948 0.947 0.955 0.971 0.988"/><feFuncG type="table" tableValues="0.000 0.005 0.011 0.019 0.028 0.037 0.043 0.047 0.047 0.045 0.040 0.037 0.037 0.040 0.046 0.053 0.062 0.072 0.081 0.090 0.099 0.108 0.117 0.126 0.135 0.144 0.153 0.162 0.171 0.182 0.192 0.204 0.216 0.229 0.243 0.259 0.275 0.293 0.312 0.332 0.353 0.376 0.399 0.424 0.449 0.475 0.502 0.530 0.558 0.587 0.616 0.645 0.675 0.706 0.736 0.767 0.798 0.829 0.859 0.889 0.917 0.943 0.966 0.985 0.998"/><feFuncB type="table" tableValues="0.014 0.039 0.072 0.106 0.141 0.178 0.215 0.253 0.291 0.325 0.355 0.379 0.396 0.409 0.419 0.425 0.429 0.432 0.433 0.433 0.432 0.429 0.426 0.421 0.415 0.408 0.400 0.391 0.381 0.370 0.358 0.344 0.330 0.315 0.300 0.283 0.266 0.249 0.231 0.212 0.194 0.175 0.155 0.135 0.115 0.095 0.074 0.053 0.035 0.025 0.026 0.040 0.065 0.096 0.130 0.166 0.206 0.250 0.298 0.351 0.411 0.475 0.540 0.602 0.645"/></feComponentTransfer>
</filter>
<clipPath id="cp2"><rect x="0" y="0" width="304" height="304"/></clipPath>
<filter id="bl2" filterUnits="userSpaceOnUse" x="-60" y="-60" width="424" height="424" color-interpolation-filters="sRGB"><feGaussianBlur stdDeviation="2.5"/></filter>
</defs>
<g clip-path="url(#cp2)">
<g filter="url(#cm2)" style="isolation:isolate">
<rect x="0" y="0" width="304" height="304" fill="#000"/>
<g filter="url(#bl2)" style="isolation:isolate"><rect x="-60" y="-60" width="424" height="424" fill="#000"/><path d="M81.00 72.76H216.50A17.74 16.32 0 0 1 234.24 89.08V218.20A17.74 16.64 0 0 1 216.50 234.84H97.43A33.27 32.87 0 0 1 64.16 201.97V89.08A16.84 16.32 0 0 1 81.00 72.76Z" fill="#030303"/><path d="M81.76 74.26H215.34A17.80 16.27 0 0 1 233.14 90.53V216.42A17.80 16.52 0 0 1 215.34 232.94H97.93A33.17 32.24 0 0 1 64.76 200.70V90.53A17.00 16.27 0 0 1 81.76 74.26Z" fill="#050505"/><path d="M82.35 75.46H214.18A17.86 16.28 0 0 1 232.04 91.74V214.81A17.86 16.43 0 0 1 214.18 231.24H98.30A33.15 31.69 0 0 1 65.16 199.55V91.74A17.19 16.28 0 0 1 82.35 75.46Z" fill="#080808"/><path d="M82.93 76.06H213.19A17.95 16.41 0 0 1 231.14 92.48V213.60A17.95 16.43 0 0 1 213.19 230.04H98.68A33.12 31.33 0 0 1 65.56 198.71V92.48A17.37 16.41 0 0 1 82.93 76.06Z" fill="#0a0a0a"/><path d="M83.52 76.56H212.36A18.08 16.56 0 0 1 230.44 93.12V212.48A18.08 16.45 0 0 1 212.36 228.94H99.05A33.09 31.01 0 0 1 65.96 197.93V93.12A17.56 16.56 0 0 1 83.52 76.56Z" fill="#0d0d0d"/><path d="M84.02 76.96H211.54A18.20 16.73 0 0 1 229.74 93.69V211.53A18.20 16.51 0 0 1 211.54 228.04H99.36A33.10 30.77 0 0 1 66.26 197.27V93.69A17.76 16.73 0 0 1 84.02 76.96Z" fill="#0f0f0f"/><path d="M84.60 77.36H210.80A18.34 16.89 0 0 1 229.14 94.25V210.58A18.34 16.56 0 0 1 210.80 227.14H99.73A33.07 30.52 0 0 1 66.66 196.62V94.25A17.94 16.89 0 0 1 84.60 77.36Z" fill="#121212"/><path d="M85.26 77.86H209.98A18.46 17.03 0 0 1 228.44 94.89V209.71A18.46 16.62 0 0 1 209.98 226.34H100.16A33.00 30.31 0 0 1 67.16 196.02V94.89A18.10 17.03 0 0 1 85.26 77.86Z" fill="#141414"/><path d="M85.99 78.26H209.32A18.62 17.19 0 0 1 227.94 95.45V208.93A18.62 16.71 0 0 1 209.32 225.64H100.64A32.88 30.14 0 0 1 67.76 195.49V95.45A18.23 17.19 0 0 1 85.99 78.26Z" fill="#171717"/><path d="M86.86 78.66H208.59A18.75 17.35 0 0 1 227.34 96.01V208.15A18.75 16.79 0 0 1 208.59 224.94H101.24A32.68 29.97 0 0 1 68.56 194.96V96.01A18.30 17.35 0 0 1 86.86 78.66Z" fill="#1a1a1a"/><path d="M87.81 79.16H207.87A18.87 17.47 0 0 1 226.74 96.64V207.38A18.87 16.86 0 0 1 207.87 224.24H101.90A32.44 29.80 0 0 1 69.46 194.44V96.64A18.35 17.47 0 0 1 87.81 79.16Z" fill="#1c1c1c"/><path d="M88.75 79.76H207.22A19.02 17.58 0 0 1 226.24 97.34V206.68A19.02 16.95 0 0 1 207.22 223.64H102.55A32.19 29.67 0 0 1 70.36 193.97V97.34A18.39 17.58 0 0 1 88.75 79.76Z" fill="#1f1f1f"/><path d="M89.77 80.26H206.66A19.18 17.70 0 0 1 225.84 97.96V205.99A19.18 17.04 0 0 1 206.66 223.04H103.26A31.89 29.53 0 0 1 71.36 193.50V97.96A18.41 17.70 0 0 1 89.77 80.26Z" fill="#212121"/><path d="M90.70 80.86H206.09A19.35 17.79 0 0 1 225.44 98.66V205.38A19.35 17.15 0 0 1 206.09 222.53H103.90A31.64 29.44 0 0 1 72.26 193.10V98.66A18.44 17.79 0 0 1 90.70 80.86Z" fill="#242424"/><path d="M91.55 81.36H205.45A19.48 17.91 0 0 1 224.94 99.27V204.85A19.48 17.28 0 0 1 205.45 222.13H104.49A31.42 29.38 0 0 1 73.06 192.75V99.27A18.48 17.91 0 0 1 91.55 81.36Z" fill="#262626"/><path d="M92.32 81.96H204.90A19.64 18.00 0 0 1 224.54 99.96V204.25A19.64 17.39 0 0 1 204.90 221.63H105.01A31.25 29.28 0 0 1 73.76 192.35V99.96A18.55 18.00 0 0 1 92.32 81.96Z" fill="#292929"/><path d="M93.08 82.56H204.34A19.80 18.08 0 0 1 224.14 100.64V203.65A19.80 17.49 0 0 1 204.34 221.13H105.53A31.07 29.18 0 0 1 74.46 191.95V100.64A18.62 18.08 0 0 1 93.08 82.56Z" fill="#2b2b2b"/><path d="M93.84 83.07H203.79A19.95 18.18 0 0 1 223.74 101.25V203.12A19.95 17.61 0 0 1 203.79 220.73H106.05A30.89 29.13 0 0 1 75.16 191.61V101.25A18.68 18.18 0 0 1 93.84 83.07Z" fill="#2e2e2e"/><path d="M94.52 83.67H203.16A20.08 18.26 0 0 1 223.24 101.92V202.60A20.08 17.73 0 0 1 203.16 220.33H106.51A30.75 29.07 0 0 1 75.76 191.27V101.92A18.76 18.26 0 0 1 94.52 83.67Z" fill="#303030"/><path d="M95.20 84.17H202.61A20.22 18.36 0 0 1 222.84 102.52V202.08A20.22 17.85 0 0 1 202.61 219.93H106.97A30.61 29.00 0 0 1 76.36 190.93V102.52A18.84 18.36 0 0 1 95.20 84.17Z" fill="#333333"/><path d="M95.87 84.67H201.92A20.31 18.45 0 0 1 222.24 103.12V201.57A20.31 17.96 0 0 1 201.92 219.53H107.43A30.47 28.94 0 0 1 76.96 190.59V103.12A18.91 18.45 0 0 1 95.87 84.67Z" fill="#363636"/><path d="M96.54 85.27H201.31A20.43 18.51 0 0 1 221.74 103.78V200.98A20.43 18.05 0 0 1 201.31 219.03H107.89A30.32 28.83 0 0 1 77.57 190.20V103.78A18.98 18.51 0 0 1 96.54 85.27Z" fill="#383838"/><path d="M97.21 85.67H200.70A20.54 18.63 0 0 1 221.24 104.30V200.47A20.54 18.16 0 0 1 200.70 218.63H108.34A30.17 28.77 0 0 1 78.17 189.86V104.30A19.04 18.63 0 0 1 97.21 85.67Z" fill="#3b3b3b"/><path d="M97.80 86.17H200.02A20.62 18.71 0 0 1 220.64 104.88V199.97A20.62 18.27 0 0 1 200.02 218.23H108.73A30.07 28.70 0 0 1 78.67 189.53V104.88A19.13 18.71 0 0 1 97.80 86.17Z" fill="#3d3d3d"/><path d="M98.39 86.67H199.34A20.69 18.79 0 0 1 220.04 105.46V199.39A20.69 18.34 0 0 1 199.34 217.73H109.13A29.96 28.59 0 0 1 79.17 189.14V105.46A19.22 18.79 0 0 1 98.39 86.67Z" fill="#404040"/><path d="M98.97 87.07H198.67A20.77 18.90 0 0 1 219.44 105.97V198.89A20.77 18.44 0 0 1 198.67 217.33H109.52A29.85 28.52 0 0 1 79.67 188.81V105.97A19.30 18.90 0 0 1 98.97 87.07Z" fill="#424242"/><path d="M99.55 87.57H198.00A20.83 18.98 0 0 1 218.84 106.54V198.39A20.83 18.54 0 0 1 198.00 216.93H109.91A29.74 28.45 0 0 1 80.17 188.48V106.54A19.38 18.98 0 0 1 99.55 87.57Z" fill="#454545"/><path d="M100.05 87.97H197.27A20.87 19.08 0 0 1 218.14 107.04V197.83A20.87 18.61 0 0 1 197.27 216.43H110.24A29.67 28.33 0 0 1 80.57 188.10V107.04A19.49 19.08 0 0 1 100.05 87.97Z" fill="#474747"/><path d="M100.63 88.37H196.61A20.93 19.17 0 0 1 217.54 107.54V197.33A20.93 18.70 0 0 1 196.61 216.03H110.63A29.56 28.26 0 0 1 81.07 187.77V107.54A19.56 19.17 0 0 1 100.63 88.37Z" fill="#4a4a4a"/><path d="M101.13 88.77H195.88A20.95 19.27 0 0 1 216.83 108.04V196.84A20.95 18.79 0 0 1 195.88 215.63H110.96A29.49 28.18 0 0 1 81.47 187.45V108.04A19.66 19.27 0 0 1 101.13 88.77Z" fill="#4c4c4c"/><path d="M102.38 89.17H194.43A21.81 20.11 0 0 1 216.23 109.28V195.63A21.81 19.60 0 0 1 194.43 215.23H111.99A30.12 28.78 0 0 1 81.87 186.45V109.28A20.52 20.11 0 0 1 102.38 89.17Z" fill="#4f4f4f"/><path d="M103.63 89.47H192.92A22.62 20.97 0 0 1 215.53 110.43V194.43A22.62 20.40 0 0 1 192.92 214.83H113.02A30.75 29.37 0 0 1 82.27 185.46V110.43A21.36 20.97 0 0 1 103.63 89.47Z" fill="#525252"/><path d="M104.86 89.77H191.43A23.40 21.81 0 0 1 214.83 111.58V193.24A23.40 21.19 0 0 1 191.43 214.43H114.03A31.36 29.95 0 0 1 82.67 184.48V111.58A22.19 21.81 0 0 1 104.86 89.77Z" fill="#545454"/><path d="M106.08 90.07H189.97A24.17 22.66 0 0 1 214.13 112.72V192.06A24.17 21.97 0 0 1 189.97 214.03H115.03A31.97 30.52 0 0 1 83.07 183.52V112.72A23.02 22.66 0 0 1 106.08 90.07Z" fill="#575757"/><path d="M107.29 90.27H188.52A24.91 23.52 0 0 1 213.43 113.79V190.89A24.91 22.74 0 0 1 188.52 213.63H116.03A32.56 31.07 0 0 1 83.47 182.56V113.79A23.82 23.52 0 0 1 107.29 90.27Z" fill="#595959"/><path d="M108.49 90.57H187.10A25.64 24.35 0 0 1 212.73 114.92V189.74A25.64 23.49 0 0 1 187.10 213.23H117.01A33.14 31.62 0 0 1 83.87 181.61V114.92A24.62 24.35 0 0 1 108.49 90.57Z" fill="#5c5c5c"/><path d="M109.67 90.87H185.69A26.34 25.16 0 0 1 212.03 116.03V188.54A26.34 24.19 0 0 1 185.69 212.73H117.99A33.72 32.10 0 0 1 84.27 180.63V116.03A25.41 25.16 0 0 1 109.67 90.87Z" fill="#5e5e5e"/><path d="M110.85 91.07H184.31A27.02 26.01 0 0 1 211.33 117.08V187.41A27.02 24.92 0 0 1 184.31 212.33H118.95A34.28 32.63 0 0 1 84.67 179.70V117.08A26.18 26.01 0 0 1 110.85 91.07Z" fill="#616161"/><path d="M112.07 91.37H182.95A27.68 26.81 0 0 1 210.63 118.18V186.24A27.68 25.59 0 0 1 182.95 211.83H119.95A34.78 33.09 0 0 1 85.17 178.74V118.18A26.90 26.81 0 0 1 112.07 91.37Z" fill="#636363"/><path d="M113.27 91.67H181.61A28.32 27.60 0 0 1 209.93 119.27V185.08A28.32 26.25 0 0 1 181.61 211.33H120.93A35.27 33.54 0 0 1 85.67 177.79V119.27A27.60 27.60 0 0 1 113.27 91.67Z" fill="#666666"/><path d="M114.51 91.97H180.29A28.94 28.38 0 0 1 209.23 120.35V183.88A28.94 26.84 0 0 1 180.29 210.73H121.95A35.68 33.92 0 0 1 86.27 176.81V120.35A28.24 28.38 0 0 1 114.51 91.97Z" fill="#696969"/><path d="M115.68 92.27H179.00A29.53 29.15 0 0 1 208.53 121.42V182.71A29.53 27.42 0 0 1 179.00 210.13H122.91A36.14 34.28 0 0 1 86.77 175.85V121.42A28.91 29.15 0 0 1 115.68 92.27Z" fill="#6b6b6b"/><path d="M116.89 92.67H177.72A30.11 29.86 0 0 1 207.83 122.53V181.55A30.11 27.98 0 0 1 177.72 209.53H123.89A36.52 34.62 0 0 1 87.37 174.90V122.53A29.52 29.86 0 0 1 116.89 92.67Z" fill="#6e6e6e"/><path d="M118.08 92.97H176.46A30.67 30.62 0 0 1 207.13 123.59V180.36A30.67 28.47 0 0 1 176.46 208.83H124.86A36.89 34.89 0 0 1 87.97 173.94V123.59A30.11 30.62 0 0 1 118.08 92.97Z" fill="#707070"/><path d="M119.20 93.37H175.23A31.20 31.31 0 0 1 206.43 124.68V179.19A31.20 28.94 0 0 1 175.23 208.13H125.78A37.31 35.14 0 0 1 88.47 172.98V124.68A30.73 31.31 0 0 1 119.20 93.37Z" fill="#737373"/><path d="M120.35 93.67H174.02A31.71 32.04 0 0 1 205.73 125.71V178.04A31.71 29.39 0 0 1 174.02 207.43H126.72A37.65 35.38 0 0 1 89.07 172.05V125.71A31.28 32.04 0 0 1 120.35 93.67Z" fill="#757575"/><path d="M121.44 94.07H172.82A32.21 32.71 0 0 1 205.03 126.78V176.86A32.21 29.76 0 0 1 172.82 206.63H127.62A38.05 35.53 0 0 1 89.57 171.10V126.78A31.87 32.71 0 0 1 121.44 94.07Z" fill="#787878"/><path d="M122.52 94.47H171.65A32.68 33.36 0 0 1 204.33 127.83V175.76A32.68 30.17 0 0 1 171.65 205.93H128.50A38.43 35.73 0 0 1 90.07 170.20V127.83A32.45 33.36 0 0 1 122.52 94.47Z" fill="#7a7a7a"/><path d="M123.54 94.87H170.54A33.19 34.01 0 0 1 203.73 128.88V174.63A33.19 30.49 0 0 1 170.54 205.13H129.33A38.86 35.84 0 0 1 90.47 169.29V128.88A33.07 34.01 0 0 1 123.54 94.87Z" fill="#7d7d7d"/><path d="M124.55 95.27H169.41A33.62 34.64 0 0 1 203.03 129.91V173.57A33.62 30.86 0 0 1 169.41 204.43H130.16A39.29 36.00 0 0 1 90.87 168.43V129.91A33.68 34.64 0 0 1 124.55 95.27Z" fill="#808080"/><path d="M125.54 95.67H168.34A34.09 35.26 0 0 1 202.43 130.93V172.53A34.09 31.20 0 0 1 168.34 203.73H131.12A39.85 36.27 0 0 1 91.27 167.46V130.93A34.27 35.26 0 0 1 125.54 95.67Z" fill="#828282"/><path d="M126.53 96.17H167.29A34.54 35.80 0 0 1 201.83 131.97V171.47A34.54 31.45 0 0 1 167.29 202.92H132.06A40.39 36.45 0 0 1 91.67 166.48V131.97A34.86 35.80 0 0 1 126.53 96.17Z" fill="#858585"/><path d="M127.47 96.67H166.22A34.91 36.33 0 0 1 201.13 133.00V170.47A34.91 31.75 0 0 1 166.22 202.22H132.97A41.00 36.67 0 0 1 91.97 165.55V133.00A35.49 36.33 0 0 1 127.47 96.67Z" fill="#878787"/><path d="M128.43 97.27H165.20A35.33 36.78 0 0 1 200.53 134.05V169.46A35.33 31.96 0 0 1 165.20 201.42H133.89A41.52 36.80 0 0 1 92.37 164.62V134.05A36.05 36.78 0 0 1 128.43 97.27Z" fill="#8a8a8a"/><path d="M129.34 97.87H164.20A35.73 37.21 0 0 1 199.93 135.08V168.48A35.73 32.15 0 0 1 164.20 200.62H134.78A42.10 36.91 0 0 1 92.67 163.72V135.08A36.67 37.21 0 0 1 129.34 97.87Z" fill="#8c8c8c"/><path d="M130.25 98.57H163.25A36.17 37.55 0 0 1 199.43 136.13V167.55A36.17 32.38 0 0 1 163.25 199.92H135.65A42.68 37.07 0 0 1 92.97 162.85V136.13A37.28 37.55 0 0 1 130.25 98.57Z" fill="#8f8f8f"/><path d="M131.18 99.27H162.29A36.54 37.88 0 0 1 198.83 137.15V166.64A36.54 32.59 0 0 1 162.29 199.22H136.54A43.17 37.21 0 0 1 93.37 162.01V137.15A37.81 37.88 0 0 1 131.18 99.27Z" fill="#919191"/><path d="M132.10 100.07H161.34A36.88 38.11 0 0 1 198.23 138.18V165.75A36.88 32.78 0 0 1 161.34 198.52H137.42A43.65 37.33 0 0 1 93.77 161.19V138.18A38.32 38.11 0 0 1 132.10 100.07Z" fill="#949494"/><path d="M132.97 100.87H160.44A37.28 38.31 0 0 1 197.73 139.19V164.90A37.28 33.02 0 0 1 160.44 197.92H138.27A44.19 37.51 0 0 1 94.07 160.41V139.19A38.90 38.31 0 0 1 132.97 100.87Z" fill="#969696"/><path d="M133.89 101.57H159.53A37.59 38.57 0 0 1 197.13 140.14V164.08A37.59 33.24 0 0 1 159.53 197.32H139.14A44.56 37.67 0 0 1 94.57 159.65V140.14A39.32 38.57 0 0 1 133.89 101.57Z" fill="#999999"/><path d="M134.80 102.27H158.66A37.96 38.80 0 0 1 196.62 141.08V163.30A37.96 33.52 0 0 1 158.66 196.82H139.99A44.92 37.91 0 0 1 95.07 158.92V141.08A39.72 38.80 0 0 1 134.80 102.27Z" fill="#9c9c9c"/><path d="M135.69 102.97H157.81A38.32 39.02 0 0 1 196.12 141.99V162.53A38.32 33.79 0 0 1 157.81 196.32H140.83A45.25 38.12 0 0 1 95.57 158.20V141.99A40.11 39.02 0 0 1 135.69 102.97Z" fill="#9e9e9e"/><path d="M136.56 103.68H156.97A38.66 39.21 0 0 1 195.62 142.89V161.80A38.66 34.12 0 0 1 156.97 195.92H141.65A45.58 38.41 0 0 1 96.07 157.51V142.89A40.49 39.21 0 0 1 136.56 103.68Z" fill="#a1a1a1"/><path d="M137.42 104.28H156.14A38.98 39.47 0 0 1 195.12 143.74V161.08A38.98 34.44 0 0 1 156.14 195.52H142.46A45.89 38.69 0 0 1 96.57 156.83V143.74A40.84 39.47 0 0 1 137.42 104.28Z" fill="#a3a3a3"/><path d="M138.28 104.98H155.35A39.37 39.62 0 0 1 194.72 144.60V160.39A39.37 34.83 0 0 1 155.35 195.22H143.26A46.09 39.05 0 0 1 97.18 156.17V144.60A41.11 39.62 0 0 1 138.28 104.98Z" fill="#a6a6a6"/><path d="M139.12 105.58H154.56A39.67 39.84 0 0 1 194.22 145.41V159.69A39.67 35.13 0 0 1 154.56 194.82H144.05A46.27 39.31 0 0 1 97.78 155.51V145.41A41.35 39.84 0 0 1 139.12 105.58Z" fill="#a8a8a8"/><path d="M139.95 106.28H153.79A40.03 39.95 0 0 1 193.82 146.23V159.02A40.03 35.50 0 0 1 153.79 194.52H144.81A46.44 39.65 0 0 1 98.38 154.87V146.23A41.57 39.95 0 0 1 139.95 106.28Z" fill="#ababab"/><path d="M140.76 106.88H153.02A40.30 40.13 0 0 1 193.32 147.00V158.35A40.30 35.77 0 0 1 153.02 194.12H145.56A46.58 39.89 0 0 1 98.98 154.23V147.00A41.78 40.13 0 0 1 140.76 106.88Z" fill="#adadad"/><path d="M141.56 107.58H152.27A40.55 40.20 0 0 1 192.82 147.78V157.69A40.55 36.13 0 0 1 152.27 193.82H146.29A46.61 40.21 0 0 1 99.68 153.61V147.78A41.88 40.20 0 0 1 141.56 107.58Z" fill="#b0b0b0"/><path d="M142.34 108.18H151.53A40.79 40.34 0 0 1 192.32 148.52V157.05A40.79 36.47 0 0 1 151.53 193.52H147.00A46.62 40.52 0 0 1 100.38 153.00V148.52A41.96 40.34 0 0 1 142.34 108.18Z" fill="#b2b2b2"/><path d="M142.71 108.88H151.17A40.55 40.00 0 0 1 191.72 148.88V156.74A40.55 36.38 0 0 1 151.17 193.12H147.00A45.92 40.12 0 0 1 101.08 153.00V148.88A41.64 40.00 0 0 1 142.71 108.88Z" fill="#b5b5b5"/><path d="M143.08 109.58H150.83A40.39 39.66 0 0 1 191.22 149.24V156.45A40.39 36.37 0 0 1 150.83 192.82H147.00A45.22 39.82 0 0 1 101.78 153.00V149.24A41.30 39.66 0 0 1 143.08 109.58Z" fill="#b8b8b8"/><path d="M143.44 110.28H150.49A40.13 39.30 0 0 1 190.62 149.58V156.15A40.13 36.27 0 0 1 150.49 192.42H147.00A44.52 39.42 0 0 1 102.48 153.00V149.58A40.96 39.30 0 0 1 143.44 110.28Z" fill="#bababa"/><path d="M143.79 110.98H150.15A39.87 38.94 0 0 1 190.02 149.92V155.87A39.87 36.25 0 0 1 150.15 192.12H147.00A43.72 39.12 0 0 1 103.28 153.00V149.92A40.52 38.94 0 0 1 143.79 110.98Z" fill="#bdbdbd"/><path d="M144.14 111.68H149.82A39.50 38.57 0 0 1 189.32 150.25V155.58A39.50 36.14 0 0 1 149.82 191.72H147.00A42.92 38.72 0 0 1 104.08 153.00V150.25A40.06 38.57 0 0 1 144.14 111.68Z" fill="#bfbfbf"/><path d="M144.47 112.38H149.50A39.22 38.18 0 0 1 188.72 150.56V155.30A39.22 36.02 0 0 1 149.50 191.32H147.00A42.12 38.32 0 0 1 104.88 153.00V150.56A39.59 38.18 0 0 1 144.47 112.38Z" fill="#c2c2c2"/><path d="M144.80 113.08H149.19A38.83 37.79 0 0 1 188.02 150.87V155.02A38.83 35.80 0 0 1 149.19 190.82H147.00A41.32 37.82 0 0 1 105.68 153.00V150.87A39.12 37.79 0 0 1 144.80 113.08Z" fill="#c4c4c4"/><path d="M145.11 113.68H148.89A38.53 37.48 0 0 1 187.42 151.17V154.74A38.53 35.58 0 0 1 148.89 190.32H147.00A40.52 37.32 0 0 1 106.48 153.00V151.17A38.63 37.48 0 0 1 145.11 113.68Z" fill="#c7c7c7"/><path d="M145.42 114.38H148.59A38.13 37.07 0 0 1 186.72 151.46V154.48A38.13 35.44 0 0 1 148.59 189.92H147.00A39.62 36.92 0 0 1 107.38 153.00V151.46A38.04 37.07 0 0 1 145.42 114.38Z" fill="#c9c9c9"/><path d="M145.71 115.08H148.30A37.82 36.65 0 0 1 186.12 151.74V154.21A37.82 35.20 0 0 1 148.30 189.42H147.00A38.82 36.42 0 0 1 108.18 153.00V151.74A37.53 36.65 0 0 1 145.71 115.08Z" fill="#cccccc"/><path d="M145.99 115.88H148.02A37.39 36.13 0 0 1 185.42 152.01V153.96A37.39 34.96 0 0 1 148.02 188.92H147.00A37.82 35.92 0 0 1 109.18 153.00V152.01A36.81 36.13 0 0 1 145.99 115.88Z" fill="#cfcfcf"/><path d="M146.26 116.58H147.76A37.06 35.69 0 0 1 184.82 152.27V153.71A37.06 34.71 0 0 1 147.76 188.42H147.00A36.92 35.42 0 0 1 110.08 153.00V152.27A36.18 35.69 0 0 1 146.26 116.58Z" fill="#d1d1d1"/><path d="M146.52 117.38H147.50A36.72 35.14 0 0 1 184.22 152.53V153.47A36.72 34.45 0 0 1 147.50 187.92H147.00A35.92 34.92 0 0 1 111.08 153.00V152.53A35.44 35.14 0 0 1 146.52 117.38Z" fill="#d4d4d4"/><path d="M146.77 118.28H147.24A36.18 34.49 0 0 1 183.42 152.77V153.23A36.18 34.09 0 0 1 147.24 187.32H147.00A34.82 34.32 0 0 1 112.18 153.00V152.77A34.59 34.49 0 0 1 146.77 118.28Z" fill="#d6d6d6"/><path d="M147.00 119.38H147.00A35.62 33.62 0 0 1 182.62 153.00V153.00A35.62 33.52 0 0 1 147.00 186.52H147.00A33.72 33.52 0 0 1 113.28 153.00V153.00A33.72 33.62 0 0 1 147.00 119.38Z" fill="#d9d9d9"/><path d="M147.00 120.58H147.00A34.42 32.42 0 0 1 181.42 153.00V153.00A34.42 32.52 0 0 1 147.00 185.52H147.00A32.42 32.52 0 0 1 114.58 153.00V153.00A32.42 32.42 0 0 1 147.00 120.58Z" fill="#dbdbdb"/><path d="M147.00 121.98H147.00A32.92 31.02 0 0 1 179.92 153.00V153.00A32.92 31.22 0 0 1 147.00 184.22H147.00A31.12 31.22 0 0 1 115.88 153.00V153.00A31.12 31.02 0 0 1 147.00 121.98Z" fill="#dedede"/><path d="M147.00 123.59H147.00A31.22 29.41 0 0 1 178.22 153.00V153.00A31.22 29.61 0 0 1 147.00 182.61H147.00A29.71 29.61 0 0 1 117.29 153.00V153.00A29.71 29.41 0 0 1 147.00 123.59Z" fill="#e0e0e0"/><path d="M147.00 125.49H147.00A29.11 27.51 0 0 1 176.11 153.00V153.00A29.11 27.81 0 0 1 147.00 180.81H147.00A28.11 27.81 0 0 1 118.89 153.00V153.00A28.11 27.51 0 0 1 147.00 125.49Z" fill="#e3e3e3"/><path d="M147.00 127.59H147.00A26.51 25.41 0 0 1 173.51 153.00V153.00A26.51 25.41 0 0 1 147.00 178.41H147.00A26.31 25.41 0 0 1 120.69 153.00V153.00A26.31 25.41 0 0 1 147.00 127.59Z" fill="#e6e6e6"/><path d="M147.00 130.49H147.00A23.41 22.51 0 0 1 170.41 153.00V153.00A23.41 22.51 0 0 1 147.00 175.51H147.00A23.51 22.51 0 0 1 123.49 153.00V153.00A23.51 22.51 0 0 1 147.00 130.49Z" fill="#e8e8e8"/><path d="M147.00 134.29H147.00A19.21 18.71 0 0 1 166.21 153.00V153.00A19.21 18.71 0 0 1 147.00 171.71H147.00A19.41 18.71 0 0 1 127.59 153.00V153.00A19.41 18.71 0 0 1 147.00 134.29Z" fill="#ebebeb"/><path d="M147.00 138.79H147.00A14.31 14.21 0 0 1 161.31 153.00V153.00A14.31 14.21 0 0 1 147.00 167.21H147.00A14.31 14.21 0 0 1 132.69 153.00V153.00A14.31 14.21 0 0 1 147.00 138.79Z" fill="#ededed"/><path d="M147.00 142.99H147.00A10.01 10.01 0 0 1 157.01 153.00V153.00A10.01 10.01 0 0 1 147.00 163.01H147.00A10.01 10.01 0 0 1 136.99 153.00V153.00A10.01 10.01 0 0 1 147.00 142.99Z" fill="#f0f0f0"/><path d="M147.00 147.00H147.00A5.90 6.00 0 0 1 152.90 153.00V153.00A5.90 6.00 0 0 1 147.00 159.00H147.00A5.90 6.00 0 0 1 141.10 153.00V153.00A5.90 6.00 0 0 1 147.00 147.00Z" fill="#f2f2f2"/><path d="M147.00 151.00H147.00A2.00 2.00 0 0 1 149.00 153.00V153.00A2.00 2.00 0 0 1 147.00 155.00H147.00A2.00 2.00 0 0 1 145.00 153.00V153.00A2.00 2.00 0 0 1 147.00 151.00Z" fill="#f5f5f5"/><path d="M147.00 153.00H147.00A0.00 0.00 0 0 1 147.00 153.00V153.00A0.00 0.00 0 0 1 147.00 153.00H147.00A0.00 0.00 0 0 1 147.00 153.00V153.00A0.00 0.00 0 0 1 147.00 153.00Z" fill="#f7f7f7"/><linearGradient id="shx2" gradientUnits="userSpaceOnUse" x1="0" x2="304" y1="0" y2="0"><stop offset="0.0000" stop-color="#090909"/><stop offset="0.2023" stop-color="#202020"/><stop offset="0.2155" stop-color="#222222"/><stop offset="0.2385" stop-color="#282828"/><stop offset="0.2500" stop-color="#292929"/><stop offset="0.2566" stop-color="#282828"/><stop offset="0.2632" stop-color="#252525"/><stop offset="0.2862" stop-color="#181818"/><stop offset="0.3010" stop-color="#0d0d0d"/><stop offset="0.3158" stop-color="#000000"/><stop offset="1.0000" stop-color="#000000"/></linearGradient><linearGradient id="shy2" gradientUnits="userSpaceOnUse" x1="0" x2="0" y1="0" y2="304"><stop offset="0.0000" stop-color="#000000"/><stop offset="0.1711" stop-color="#010101"/><stop offset="0.1941" stop-color="#030303"/><stop offset="0.2039" stop-color="#060606"/><stop offset="0.2122" stop-color="#090909"/><stop offset="0.2220" stop-color="#101010"/><stop offset="0.2303" stop-color="#171717"/><stop offset="0.2401" stop-color="#242424"/><stop offset="0.2484" stop-color="#313131"/><stop offset="0.2566" stop-color="#404040"/><stop offset="0.2648" stop-color="#525252"/><stop offset="0.2730" stop-color="#666666"/><stop offset="0.2961" stop-color="#a1a1a1"/><stop offset="0.3043" stop-color="#b4b4b4"/><stop offset="0.3109" stop-color="#c2c2c2"/><stop offset="0.3191" stop-color="#d1d1d1"/><stop offset="0.3257" stop-color="#dbdbdb"/><stop offset="0.3339" stop-color="#e6e6e6"/><stop offset="0.3421" stop-color="#eeeeee"/><stop offset="0.3503" stop-color="#f4f4f4"/><stop offset="0.3602" stop-color="#f9f9f9"/><stop offset="0.3701" stop-color="#fcfcfc"/><stop offset="0.3832" stop-color="#fefefe"/><stop offset="0.4128" stop-color="#ffffff"/><stop offset="0.5099" stop-color="#ffffff"/><stop offset="0.6069" stop-color="#ffffff"/><stop offset="0.6365" stop-color="#fefefe"/><stop offset="0.6497" stop-color="#fcfcfc"/><stop offset="0.6595" stop-color="#f9f9f9"/><stop offset="0.6694" stop-color="#f4f4f4"/><stop offset="0.6776" stop-color="#eeeeee"/><stop offset="0.6859" stop-color="#e6e6e6"/><stop offset="0.6941" stop-color="#dbdbdb"/><stop offset="0.7007" stop-color="#d1d1d1"/><stop offset="0.7089" stop-color="#c2c2c2"/><stop offset="0.7155" stop-color="#b4b4b4"/><stop offset="0.7237" stop-color="#a1a1a1"/><stop offset="0.7467" stop-color="#666666"/><stop offset="0.7549" stop-color="#525252"/><stop offset="0.7632" stop-color="#404040"/><stop offset="0.7714" stop-color="#313131"/><stop offset="0.7796" stop-color="#242424"/><stop offset="0.7895" stop-color="#171717"/><stop offset="0.7977" stop-color="#101010"/><stop offset="0.8076" stop-color="#090909"/><stop offset="0.8158" stop-color="#060606"/><stop offset="0.8257" stop-color="#030303"/><stop offset="0.8487" stop-color="#010101"/><stop offset="1.0000" stop-color="#000000"/></linearGradient><g style="isolation:isolate;mix-blend-mode:lighten"><rect x="-60" y="-60" width="424" height="424" fill="url(#shx2)"/><rect x="-60" y="-60" width="424" height="424" fill="url(#shy2)" style="mix-blend-mode:multiply"/></g></g>
</g>
<rect x="0" y="150.75" width="304" height="1.3" fill="#fff"/>
<rect x="150.75" y="0" width="1.5" height="304" fill="#fff"/>
<rect x="6.90" y="149.10" width="1.2" height="4.6" fill="#fff"/>
<rect x="149.20" y="6.80" width="4.6" height="1.2" fill="#fff"/>
<rect x="24.90" y="149.10" width="1.2" height="4.6" fill="#fff"/>
<rect x="149.20" y="24.80" width="4.6" height="1.2" fill="#fff"/>
<rect x="42.90" y="149.10" width="1.2" height="4.6" fill="#fff"/>
<rect x="149.20" y="42.80" width="4.6" height="1.2" fill="#fff"/>
<rect x="60.60" y="147.20" width="1.8" height="8.4" fill="#fff"/>
<rect x="147.30" y="60.50" width="8.4" height="1.8" fill="#fff"/>
<rect x="78.90" y="149.10" width="1.2" height="4.6" fill="#fff"/>
<rect x="149.20" y="78.80" width="4.6" height="1.2" fill="#fff"/>
<rect x="96.90" y="149.10" width="1.2" height="4.6" fill="#fff"/>
<rect x="149.20" y="96.80" width="4.6" height="1.2" fill="#fff"/>
<rect x="114.90" y="149.10" width="1.2" height="4.6" fill="#fff"/>
<rect x="149.20" y="114.80" width="4.6" height="1.2" fill="#fff"/>
<rect x="132.90" y="149.10" width="1.2" height="4.6" fill="#fff"/>
<rect x="149.20" y="132.80" width="4.6" height="1.2" fill="#fff"/>
<rect x="168.90" y="149.10" width="1.2" height="4.6" fill="#fff"/>
<rect x="149.20" y="168.80" width="4.6" height="1.2" fill="#fff"/>
<rect x="186.90" y="149.10" width="1.2" height="4.6" fill="#fff"/>
<rect x="149.20" y="186.80" width="4.6" height="1.2" fill="#fff"/>
<rect x="204.90" y="149.10" width="1.2" height="4.6" fill="#fff"/>
<rect x="149.20" y="204.80" width="4.6" height="1.2" fill="#fff"/>
<rect x="222.90" y="149.10" width="1.2" height="4.6" fill="#fff"/>
<rect x="149.20" y="222.80" width="4.6" height="1.2" fill="#fff"/>
<rect x="240.60" y="147.20" width="1.8" height="8.4" fill="#fff"/>
<rect x="147.30" y="240.50" width="8.4" height="1.8" fill="#fff"/>
<rect x="258.90" y="149.10" width="1.2" height="4.6" fill="#fff"/>
<rect x="149.20" y="258.80" width="4.6" height="1.2" fill="#fff"/>
<rect x="276.90" y="149.10" width="1.2" height="4.6" fill="#fff"/>
<rect x="149.20" y="276.80" width="4.6" height="1.2" fill="#fff"/>
<rect x="294.90" y="149.10" width="1.2" height="4.6" fill="#fff"/>
<rect x="149.20" y="294.80" width="4.6" height="1.2" fill="#fff"/>
<rect x="8.9" y="284.85" width="90" height="1" fill="#bbb"/>
<rect x="7.90" y="281.35" width="2" height="8" fill="#fff"/>
<rect x="26.30" y="283.15000000000003" width="1.2" height="4.5" fill="#ddd"/>
<rect x="44.30" y="283.15000000000003" width="1.2" height="4.5" fill="#ddd"/>
<rect x="62.30" y="283.15000000000003" width="1.2" height="4.5" fill="#ddd"/>
<rect x="80.30" y="283.15000000000003" width="1.2" height="4.5" fill="#ddd"/>
<rect x="97.90" y="281.35" width="2" height="8" fill="#fff"/>
<text x="37.3" y="300.1" font-size="12.7" word-spacing="3" fill="#fff" stroke="#fff" stroke-width="0.3" font-family='"Liberation Sans", sans-serif'>100 mm</text>
<linearGradient id="cb2" x1="0" x2="1" y1="0" y2="0"><stop offset="0.0000" stop-color="rgb(0,0,3)"/><stop offset="0.0625" stop-color="rgb(10,7,35)"/><stop offset="0.1250" stop-color="rgb(32,12,74)"/><stop offset="0.1875" stop-color="rgb(60,9,101)"/><stop offset="0.2500" stop-color="rgb(87,15,109)"/><stop offset="0.3125" stop-color="rgb(112,25,110)"/><stop offset="0.3750" stop-color="rgb(137,34,105)"/><stop offset="0.4375" stop-color="rgb(163,43,97)"/><stop offset="0.5000" stop-color="rgb(187,55,84)"/><stop offset="0.5625" stop-color="rgb(209,70,67)"/><stop offset="0.6250" stop-color="rgb(228,90,49)"/><stop offset="0.6875" stop-color="rgb(241,114,29)"/><stop offset="0.7500" stop-color="rgb(249,142,8)"/><stop offset="0.8125" stop-color="rgb(251,172,16)"/><stop offset="0.8750" stop-color="rgb(248,203,52)"/><stop offset="0.9375" stop-color="rgb(241,233,104)"/><stop offset="1.0000" stop-color="rgb(252,254,164)"/></linearGradient>
<rect x="189.7" y="279.4" width="91.0" height="6.3" fill="url(#cb2)"/>
<rect x="189.10" y="283" width="1.2" height="4.5" fill="#ccc"/>
<rect x="204.60" y="283" width="1.2" height="4.5" fill="#ccc"/>
<rect x="220.11" y="283" width="1.2" height="4.5" fill="#ccc"/>
<rect x="235.61" y="283" width="1.2" height="4.5" fill="#ccc"/>
<rect x="251.11" y="283" width="1.2" height="4.5" fill="#ccc"/>
<rect x="266.61" y="283" width="1.2" height="4.5" fill="#ccc"/>
<rect x="280.10" y="283" width="1.2" height="4.5" fill="#ccc"/>
<text x="186" y="300.1" font-size="12.7" fill="#fff" stroke="#fff" stroke-width="0.3" font-family='"Liberation Sans", sans-serif'>0</text>
<text x="230" y="300.1" font-size="12.7" fill="#fff" stroke="#fff" stroke-width="0.3" font-family='"Liberation Sans", sans-serif'>klux</text>
<text x="270.8" y="300.1" font-size="12.7" fill="#fff" stroke="#fff" stroke-width="0.3" font-family='"Liberation Sans", sans-serif'>5,87</text>
</g>
</svg></div>
<div style="position:absolute;left:1056px;top:42px;width:304px;height:304px;">
<svg width="304" height="304" viewBox="0 0 304 304" style="display:block">
<defs>
<filter id="cm3" filterUnits="userSpaceOnUse" x="0" y="0" width="304" height="304" color-interpolation-filters="sRGB">
<feComponentTransfer><feFuncR type="table" tableValues="0.001 0.006 0.014 0.026 0.042 0.061 0.082 0.105 0.129 0.156 0.183 0.211 0.238 0.265 0.291 0.316 0.342 0.367 0.391 0.416 0.441 0.466 0.491 0.516 0.541 0.566 0.591 0.616 0.640 0.665 0.689 0.712 0.736 0.758 0.781 0.802 0.822 0.842 0.861 0.878 0.894 0.909 0.923 0.936 0.947 0.957 0.965 0.973 0.978 0.983 0.986 0.988 0.988 0.987 0.984 0.980 0.975 0.968 0.961 0.953 0.948 0.947 0.955 0.971 0.988"/><feFuncG type="table" tableValues="0.000 0.005 0.011 0.019 0.028 0.037 0.043 0.047 0.047 0.045 0.040 0.037 0.037 0.040 0.046 0.053 0.062 0.072 0.081 0.090 0.099 0.108 0.117 0.126 0.135 0.144 0.153 0.162 0.171 0.182 0.192 0.204 0.216 0.229 0.243 0.259 0.275 0.293 0.312 0.332 0.353 0.376 0.399 0.424 0.449 0.475 0.502 0.530 0.558 0.587 0.616 0.645 0.675 0.706 0.736 0.767 0.798 0.829 0.859 0.889 0.917 0.943 0.966 0.985 0.998"/><feFuncB type="table" tableValues="0.014 0.039 0.072 0.106 0.141 0.178 0.215 0.253 0.291 0.325 0.355 0.379 0.396 0.409 0.419 0.425 0.429 0.432 0.433 0.433 0.432 0.429 0.426 0.421 0.415 0.408 0.400 0.391 0.381 0.370 0.358 0.344 0.330 0.315 0.300 0.283 0.266 0.249 0.231 0.212 0.194 0.175 0.155 0.135 0.115 0.095 0.074 0.053 0.035 0.025 0.026 0.040 0.065 0.096 0.130 0.166 0.206 0.250 0.298 0.351 0.411 0.475 0.540 0.602 0.645"/></feComponentTransfer>
</filter>
<clipPath id="cp3"><rect x="0" y="0" width="304" height="304"/></clipPath>
<filter id="bl3" filterUnits="userSpaceOnUse" x="-60" y="-60" width="424" height="424" color-interpolation-filters="sRGB"><feGaussianBlur stdDeviation="5"/></filter>
</defs>
<g clip-path="url(#cp3)">
<g filter="url(#cm3)" style="isolation:isolate">
<rect x="0" y="0" width="304" height="304" fill="#000"/>
<g filter="url(#bl3)" style="isolation:isolate"><rect x="-60" y="-60" width="424" height="424" fill="#000"/><path d="M81.21 38.94H217.98A43.32 44.42 0 0 1 261.30 83.37V215.51A43.32 43.67 0 0 1 217.98 259.18H45.32A71.79 43.67 0 0 1 -26.46 215.51V105.58A107.68 66.63 0 0 1 81.21 38.94Z" fill="#030303"/><path d="M83.22 44.70H215.36A41.57 42.12 0 0 1 256.93 86.82V212.13A41.57 41.42 0 0 1 215.36 253.55H48.32A69.78 41.42 0 0 1 -21.46 212.13V107.88A104.68 63.18 0 0 1 83.22 44.70Z" fill="#050505"/><path d="M84.92 49.20H213.41A40.27 40.32 0 0 1 253.68 89.52V209.95A40.27 39.97 0 0 1 213.41 249.92H50.87A68.08 39.97 0 0 1 -17.21 209.95V109.68A102.13 60.48 0 0 1 84.92 49.20Z" fill="#080808"/><path d="M86.97 52.58H211.90A39.27 38.97 0 0 1 251.17 91.55V208.38A39.27 38.92 0 0 1 211.90 247.30H53.95A66.03 38.92 0 0 1 -12.08 208.38V111.03A99.05 58.45 0 0 1 86.97 52.58Z" fill="#0a0a0a"/><path d="M89.77 55.08H210.63A38.42 37.97 0 0 1 249.05 93.05V207.03A38.42 38.02 0 0 1 210.63 245.05H58.15A63.23 38.02 0 0 1 -5.08 207.03V112.03A94.85 56.95 0 0 1 89.77 55.08Z" fill="#0d0d0d"/><path d="M92.97 56.95H209.58A37.72 37.22 0 0 1 247.30 94.17V205.98A37.72 37.32 0 0 1 209.58 243.30H62.95A60.03 37.32 0 0 1 2.92 205.98V112.78A90.05 55.83 0 0 1 92.97 56.95Z" fill="#0f0f0f"/><path d="M97.12 58.45H208.83A37.22 36.62 0 0 1 246.05 95.07V205.23A37.22 36.82 0 0 1 208.83 242.05H69.18A55.88 36.82 0 0 1 13.31 205.23V113.38A83.82 54.93 0 0 1 97.12 58.45Z" fill="#121212"/><path d="M100.57 59.83H208.15A36.77 36.07 0 0 1 244.92 95.90V204.55A36.77 36.37 0 0 1 208.15 240.92H74.36A52.43 36.37 0 0 1 21.93 204.55V113.93A78.64 54.10 0 0 1 100.57 59.83Z" fill="#141414"/><path d="M103.38 61.08H207.63A36.42 35.57 0 0 1 244.05 96.65V204.03A36.42 36.02 0 0 1 207.63 240.05H78.56A49.62 36.02 0 0 1 28.94 204.03V114.43A74.44 53.35 0 0 1 103.38 61.08Z" fill="#171717"/><path d="M105.63 62.33H207.10A36.07 35.07 0 0 1 243.17 97.40V203.50A36.07 35.67 0 0 1 207.10 239.17H81.94A47.37 35.67 0 0 1 34.57 203.50V114.93A71.06 52.60 0 0 1 105.63 62.33Z" fill="#1a1a1a"/><path d="M107.43 63.58H206.58A35.72 34.57 0 0 1 242.29 98.15V202.98A35.72 35.32 0 0 1 206.58 238.29H84.64A45.57 35.32 0 0 1 39.07 202.98V115.43A68.36 51.85 0 0 1 107.43 63.58Z" fill="#1c1c1c"/><path d="M108.88 64.71H206.05A35.37 34.12 0 0 1 241.42 98.82V202.45A35.37 34.97 0 0 1 206.05 237.42H86.82A44.12 34.97 0 0 1 42.69 202.45V115.88A66.18 51.18 0 0 1 108.88 64.71Z" fill="#1f1f1f"/><path d="M110.08 65.83H205.60A35.07 33.67 0 0 1 240.67 99.50V202.00A35.07 34.67 0 0 1 205.60 236.67H88.62A42.92 34.67 0 0 1 45.70 202.00V116.33A64.38 50.50 0 0 1 110.08 65.83Z" fill="#212121"/><path d="M111.13 66.83H205.15A34.77 33.27 0 0 1 239.92 100.10V201.55A34.77 34.37 0 0 1 205.15 235.92H90.19A41.87 34.37 0 0 1 48.32 201.55V116.73A62.81 49.90 0 0 1 111.13 66.83Z" fill="#242424"/><path d="M112.13 67.83H204.78A34.52 32.87 0 0 1 239.29 100.70V201.10A34.52 34.07 0 0 1 204.78 235.17H91.69A40.87 34.07 0 0 1 50.82 201.10V117.13A61.31 49.30 0 0 1 112.13 67.83Z" fill="#262626"/><path d="M112.98 68.71H204.33A34.22 32.52 0 0 1 238.54 101.23V200.65A34.22 33.77 0 0 1 204.33 234.42H92.97A40.02 33.77 0 0 1 52.95 200.65V117.48A60.03 48.77 0 0 1 112.98 68.71Z" fill="#292929"/><path d="M113.73 69.71H203.95A33.97 32.12 0 0 1 237.92 101.83V200.28A33.97 33.52 0 0 1 203.95 233.79H94.10A39.27 33.52 0 0 1 54.83 200.28V117.88A58.90 48.17 0 0 1 113.73 69.71Z" fill="#2b2b2b"/><path d="M114.38 70.59H203.58A33.72 31.77 0 0 1 237.29 102.35V199.82A33.72 33.22 0 0 1 203.58 233.04H95.07A38.62 33.22 0 0 1 56.45 199.82V118.23A57.93 47.65 0 0 1 114.38 70.59Z" fill="#2e2e2e"/><path d="M114.98 71.59H203.20A33.47 31.37 0 0 1 236.67 102.95V199.45A33.47 32.97 0 0 1 203.20 232.42H95.97A38.02 32.97 0 0 1 57.95 199.45V118.63A57.03 47.05 0 0 1 114.98 71.59Z" fill="#303030"/><path d="M115.53 72.46H202.82A33.22 31.02 0 0 1 236.04 103.48V199.15A33.22 32.77 0 0 1 202.82 231.92H96.80A37.47 32.77 0 0 1 59.33 199.15V118.98A56.20 46.52 0 0 1 115.53 72.46Z" fill="#333333"/><path d="M116.03 73.34H202.37A32.92 30.67 0 0 1 235.29 104.00V198.77A32.92 32.52 0 0 1 202.37 231.29H97.55A36.97 32.52 0 0 1 60.58 198.77V119.33A55.45 46.00 0 0 1 116.03 73.34Z" fill="#363636"/><path d="M116.48 74.34H202.00A32.67 30.27 0 0 1 234.67 104.60V198.40A32.67 32.27 0 0 1 202.00 230.67H98.22A36.52 32.27 0 0 1 61.70 198.40V119.73A54.78 45.40 0 0 1 116.48 74.34Z" fill="#383838"/><path d="M116.88 75.21H201.55A32.37 29.91 0 0 1 233.92 105.13V198.10A32.37 32.07 0 0 1 201.55 230.17H98.82A36.12 32.07 0 0 1 62.70 198.10V120.09A54.18 44.87 0 0 1 116.88 75.21Z" fill="#3b3b3b"/><path d="M117.28 75.96H201.17A32.12 29.61 0 0 1 233.29 105.58V197.80A32.12 31.87 0 0 1 201.17 229.66H99.42A35.72 31.87 0 0 1 63.71 197.80V120.39A53.58 44.42 0 0 1 117.28 75.96Z" fill="#3d3d3d"/><path d="M117.68 76.84H200.72A31.82 29.26 0 0 1 232.54 106.10V197.50A31.82 31.67 0 0 1 200.72 229.16H100.02A35.32 31.67 0 0 1 64.71 197.50V120.74A52.98 43.90 0 0 1 117.68 76.84Z" fill="#404040"/><path d="M118.03 77.71H200.35A31.57 28.91 0 0 1 231.91 106.63V197.27A31.57 31.52 0 0 1 200.35 228.79H100.55A34.97 31.52 0 0 1 65.58 197.27V121.09A52.45 43.37 0 0 1 118.03 77.71Z" fill="#424242"/><path d="M118.33 78.46H199.90A31.27 28.61 0 0 1 231.16 107.08V196.97A31.27 31.32 0 0 1 199.90 228.29H101.00A34.67 31.32 0 0 1 66.33 196.97V121.39A52.00 42.92 0 0 1 118.33 78.46Z" fill="#454545"/><path d="M118.63 79.34H199.45A30.97 28.26 0 0 1 230.41 107.60V196.67A30.97 31.12 0 0 1 199.45 227.79H101.45A34.37 31.12 0 0 1 67.08 196.67V121.74A51.55 42.40 0 0 1 118.63 79.34Z" fill="#474747"/><path d="M118.93 80.22H199.07A30.72 27.91 0 0 1 229.79 108.13V196.37A30.72 30.92 0 0 1 199.07 227.29H101.90A34.07 30.92 0 0 1 67.83 196.37V122.09A51.10 41.87 0 0 1 118.93 80.22Z" fill="#4a4a4a"/><path d="M119.23 81.22H198.62A30.42 27.51 0 0 1 229.04 108.73V196.07A30.42 30.72 0 0 1 198.62 226.79H102.35A33.77 30.72 0 0 1 68.58 196.07V122.49A50.65 41.27 0 0 1 119.23 81.22Z" fill="#4c4c4c"/><path d="M120.32 82.09H197.42A30.87 27.84 0 0 1 228.29 109.93V195.01A30.87 31.28 0 0 1 197.42 226.29H103.56A34.35 31.28 0 0 1 69.21 195.01V123.52A51.11 41.42 0 0 1 120.32 82.09Z" fill="#4f4f4f"/><path d="M121.40 82.97H196.23A31.31 28.15 0 0 1 227.54 111.12V193.96A31.31 31.83 0 0 1 196.23 225.79H104.76A34.93 31.83 0 0 1 69.83 193.96V124.53A51.56 41.56 0 0 1 121.40 82.97Z" fill="#525252"/><path d="M122.41 83.84H195.06A31.73 28.45 0 0 1 226.79 112.29V192.91A31.73 32.37 0 0 1 195.06 225.29H105.88A35.55 32.37 0 0 1 70.33 192.91V125.52A52.08 41.68 0 0 1 122.41 83.84Z" fill="#545454"/><path d="M123.42 84.47H193.90A32.14 28.83 0 0 1 226.04 113.30V191.95A32.14 32.96 0 0 1 193.90 224.91H106.99A36.15 32.96 0 0 1 70.83 191.95V126.41A52.59 41.94 0 0 1 123.42 84.47Z" fill="#575757"/><path d="M124.37 85.09H192.76A32.53 29.21 0 0 1 225.29 114.30V190.93A32.53 33.49 0 0 1 192.76 224.41H108.02A36.81 33.49 0 0 1 71.21 190.93V127.28A53.16 42.19 0 0 1 124.37 85.09Z" fill="#595959"/><path d="M125.36 85.72H191.63A32.91 29.57 0 0 1 224.54 115.29V189.91A32.91 34.00 0 0 1 191.63 223.91H109.10A37.39 34.00 0 0 1 71.71 189.91V128.14A53.65 42.43 0 0 1 125.36 85.72Z" fill="#5c5c5c"/><path d="M126.34 86.22H190.52A33.27 29.98 0 0 1 223.79 116.20V188.91A33.27 34.50 0 0 1 190.52 223.41H110.18A37.97 34.50 0 0 1 72.21 188.91V128.95A54.13 42.73 0 0 1 126.34 86.22Z" fill="#5e5e5e"/><path d="M127.27 86.59H189.42A33.62 30.44 0 0 1 223.04 117.03V187.91A33.62 35.00 0 0 1 189.42 222.91H111.18A38.60 35.00 0 0 1 72.58 187.91V129.71A54.68 43.12 0 0 1 127.27 86.59Z" fill="#616161"/><path d="M128.23 86.97H188.34A33.95 30.89 0 0 1 222.28 117.85V186.93A33.95 35.48 0 0 1 188.34 222.41H112.24A39.16 35.48 0 0 1 73.09 186.93V130.46A55.14 43.49 0 0 1 128.23 86.97Z" fill="#636363"/><path d="M129.21 87.34H187.20A34.20 31.33 0 0 1 221.41 118.67V185.89A34.20 35.89 0 0 1 187.20 221.79H113.36A39.64 35.89 0 0 1 73.71 185.89V131.20A55.50 43.86 0 0 1 129.21 87.34Z" fill="#666666"/><path d="M130.15 87.59H186.15A34.51 31.83 0 0 1 220.66 119.42V184.93A34.51 36.36 0 0 1 186.15 221.29H114.39A40.18 36.36 0 0 1 74.21 184.93V131.90A55.94 44.31 0 0 1 130.15 87.59Z" fill="#696969"/><path d="M131.11 87.97H185.06A34.73 32.26 0 0 1 219.78 120.23V183.92A34.73 36.74 0 0 1 185.06 220.66H115.48A40.65 36.74 0 0 1 74.84 183.92V132.63A56.28 44.66 0 0 1 131.11 87.97Z" fill="#6b6b6b"/><path d="M132.06 88.34H184.04A35.00 32.68 0 0 1 219.03 121.02V182.92A35.00 37.12 0 0 1 184.04 220.04H116.56A41.10 37.12 0 0 1 75.46 182.92V133.35A56.60 45.01 0 0 1 132.06 88.34Z" fill="#6e6e6e"/><path d="M133.04 88.59H182.97A35.19 33.16 0 0 1 218.16 121.75V181.93A35.19 37.48 0 0 1 182.97 219.41H117.68A41.47 37.48 0 0 1 76.21 181.93V134.03A56.82 45.44 0 0 1 133.04 88.59Z" fill="#707070"/><path d="M133.96 88.97H181.93A35.36 33.57 0 0 1 217.28 122.54V180.95A35.36 37.83 0 0 1 181.93 218.78H118.73A41.89 37.83 0 0 1 76.84 180.95V134.74A57.12 45.77 0 0 1 133.96 88.97Z" fill="#737373"/><path d="M134.90 89.34H180.90A35.51 33.97 0 0 1 216.41 123.31V179.99A35.51 38.17 0 0 1 180.90 218.16H119.82A42.23 38.17 0 0 1 77.59 179.99V135.44A57.31 46.10 0 0 1 134.90 89.34Z" fill="#757575"/><path d="M135.83 89.72H179.89A35.64 34.36 0 0 1 215.53 124.08V178.99A35.64 38.42 0 0 1 179.89 217.41H120.90A42.56 38.42 0 0 1 78.34 178.99V136.14A57.49 46.42 0 0 1 135.83 89.72Z" fill="#787878"/><path d="M136.74 90.10H178.95A35.83 34.74 0 0 1 214.78 124.84V178.05A35.83 38.73 0 0 1 178.95 216.78H121.96A42.87 38.73 0 0 1 79.09 178.05V136.82A57.65 46.73 0 0 1 136.74 90.10Z" fill="#7a7a7a"/><path d="M137.64 90.60H177.97A35.93 35.05 0 0 1 213.91 125.64V177.07A35.93 38.96 0 0 1 177.97 216.03H123.00A43.17 38.96 0 0 1 79.84 177.07V137.53A57.80 46.93 0 0 1 137.64 90.60Z" fill="#7d7d7d"/><path d="M138.52 90.97H177.01A36.02 35.42 0 0 1 213.03 126.39V176.16A36.02 39.24 0 0 1 177.01 215.41H124.04A43.45 39.24 0 0 1 80.59 176.16V138.19A57.93 47.22 0 0 1 138.52 90.97Z" fill="#808080"/><path d="M139.38 91.47H176.12A36.16 35.70 0 0 1 212.28 127.17V175.27A36.16 39.52 0 0 1 176.12 214.78H125.05A43.71 39.52 0 0 1 81.34 175.27V138.88A58.05 47.41 0 0 1 139.38 91.47Z" fill="#828282"/><path d="M140.24 91.85H175.19A36.21 36.06 0 0 1 211.40 127.90V174.33A36.21 39.70 0 0 1 175.19 214.03H126.05A43.96 39.70 0 0 1 82.09 174.33V139.53A58.15 47.69 0 0 1 140.24 91.85Z" fill="#858585"/><path d="M141.09 92.35H174.33A36.32 36.32 0 0 1 210.65 128.67V173.46A36.32 39.95 0 0 1 174.33 213.41H127.09A44.12 39.95 0 0 1 82.96 173.46V140.20A58.13 47.85 0 0 1 141.09 92.35Z" fill="#878787"/><path d="M141.93 92.72H173.49A36.42 36.66 0 0 1 209.90 129.38V172.56A36.42 40.10 0 0 1 173.49 212.66H128.10A44.26 40.10 0 0 1 83.84 172.56V140.84A58.09 48.11 0 0 1 141.93 92.72Z" fill="#8a8a8a"/><path d="M142.78 93.22H172.61A36.42 36.91 0 0 1 209.03 130.13V171.71A36.42 40.32 0 0 1 172.61 212.03H129.14A44.30 40.32 0 0 1 84.84 171.71V141.48A57.94 48.26 0 0 1 142.78 93.22Z" fill="#8c8c8c"/><path d="M143.58 93.72H171.79A36.48 37.14 0 0 1 208.28 130.87V170.84A36.48 40.45 0 0 1 171.79 211.28H130.12A44.41 40.45 0 0 1 85.72 170.84V142.12A57.86 48.40 0 0 1 143.58 93.72Z" fill="#8f8f8f"/><path d="M144.37 94.22H170.99A36.53 37.37 0 0 1 207.53 131.59V170.02A36.53 40.64 0 0 1 170.99 210.66H131.09A44.49 40.64 0 0 1 86.59 170.02V142.75A57.78 48.53 0 0 1 144.37 94.22Z" fill="#919191"/><path d="M145.14 94.72H170.21A36.57 37.59 0 0 1 206.78 132.31V169.17A36.57 40.74 0 0 1 170.21 209.90H132.03A44.56 40.74 0 0 1 87.47 169.17V143.37A57.67 48.64 0 0 1 145.14 94.72Z" fill="#949494"/><path d="M145.87 95.22H169.48A36.67 37.80 0 0 1 206.15 133.02V168.34A36.67 40.82 0 0 1 169.48 209.15H132.92A44.70 40.82 0 0 1 88.22 168.34V143.97A57.66 48.75 0 0 1 145.87 95.22Z" fill="#969696"/><path d="M146.60 95.72H168.72A36.68 37.99 0 0 1 205.40 133.72V167.52A36.68 40.88 0 0 1 168.72 208.40H133.79A44.82 40.88 0 0 1 88.97 167.52V144.57A57.63 48.85 0 0 1 146.60 95.72Z" fill="#999999"/><path d="M147.09 96.22H167.50A37.28 38.72 0 0 1 204.78 134.94V166.14A37.28 41.51 0 0 1 167.50 207.65H135.28A45.56 41.51 0 0 1 89.72 166.14V144.98A57.38 48.76 0 0 1 147.09 96.22Z" fill="#9c9c9c"/><path d="M147.57 96.72H166.30A37.85 39.42 0 0 1 204.15 136.15V164.79A37.85 42.11 0 0 1 166.30 206.90H136.71A46.37 42.11 0 0 1 90.34 164.79V145.38A57.23 48.66 0 0 1 147.57 96.72Z" fill="#9e9e9e"/><path d="M148.03 97.22H165.13A38.40 40.11 0 0 1 203.53 137.33V163.48A38.40 42.68 0 0 1 165.13 206.15H138.08A47.24 42.68 0 0 1 90.84 163.48V145.78A57.18 48.55 0 0 1 148.03 97.22Z" fill="#a1a1a1"/><path d="M148.49 97.72H163.98A38.92 40.78 0 0 1 202.90 138.50V162.16A38.92 43.12 0 0 1 163.98 205.28H139.46A47.99 43.12 0 0 1 91.47 162.16V146.17A57.02 48.44 0 0 1 148.49 97.72Z" fill="#a3a3a3"/><path d="M148.93 98.35H162.88A39.52 41.32 0 0 1 202.40 139.67V160.91A39.52 43.62 0 0 1 162.88 204.53H140.79A48.82 43.62 0 0 1 91.97 160.91V146.56A56.96 48.21 0 0 1 148.93 98.35Z" fill="#a6a6a6"/><path d="M149.37 98.85H161.78A39.99 41.94 0 0 1 201.77 140.79V159.66A39.99 43.99 0 0 1 161.78 203.65H142.10A49.63 43.99 0 0 1 92.47 159.66V146.93A56.90 48.08 0 0 1 149.37 98.85Z" fill="#a8a8a8"/><path d="M149.81 99.47H160.72A40.55 42.44 0 0 1 201.27 141.92V158.46A40.55 44.44 0 0 1 160.72 202.90H143.42A50.32 44.44 0 0 1 93.10 158.46V147.31A56.71 47.83 0 0 1 149.81 99.47Z" fill="#ababab"/><path d="M150.23 99.97H159.67A40.98 43.02 0 0 1 200.65 143.00V157.28A40.98 44.74 0 0 1 159.67 202.03H144.68A51.09 44.74 0 0 1 93.60 157.28V147.67A56.63 47.69 0 0 1 150.23 99.97Z" fill="#adadad"/><path d="M150.65 100.60H158.64A41.38 43.47 0 0 1 200.02 144.07V156.15A41.38 45.12 0 0 1 158.64 201.28H145.95A51.73 45.12 0 0 1 94.22 156.15V148.02A56.43 47.42 0 0 1 150.65 100.60Z" fill="#b0b0b0"/><path d="M151.07 101.23H157.64A41.76 43.90 0 0 1 199.40 145.12V155.04A41.76 45.36 0 0 1 157.64 200.40H147.20A52.23 45.36 0 0 1 94.97 155.04V148.37A56.09 47.15 0 0 1 151.07 101.23Z" fill="#b2b2b2"/><path d="M151.47 101.85H156.66A42.11 44.30 0 0 1 198.77 146.15V153.97A42.11 45.68 0 0 1 156.66 199.65H148.42A52.70 45.68 0 0 1 95.72 153.97V148.72A55.75 46.87 0 0 1 151.47 101.85Z" fill="#b5b5b5"/><path d="M151.87 102.60H155.70A42.32 44.55 0 0 1 198.02 147.16V152.93A42.32 45.97 0 0 1 155.70 198.90H149.62A52.90 45.97 0 0 1 96.72 152.93V149.05A55.15 46.45 0 0 1 151.87 102.60Z" fill="#b8b8b8"/><path d="M152.26 103.35H154.77A42.50 44.78 0 0 1 197.27 148.13V151.93A42.50 46.34 0 0 1 154.77 198.27H150.79A53.07 46.34 0 0 1 97.72 151.93V149.38A54.54 46.03 0 0 1 152.26 103.35Z" fill="#bababa"/><path d="M152.64 104.10H153.87A42.65 44.98 0 0 1 196.52 149.08V150.95A42.65 46.57 0 0 1 153.87 197.52H151.91A53.19 46.57 0 0 1 98.72 150.95V149.69A53.92 45.59 0 0 1 152.64 104.10Z" fill="#bdbdbd"/><path d="M153.00 104.85H153.00A42.77 45.15 0 0 1 195.77 150.00V150.00A42.77 46.90 0 0 1 153.00 196.90H153.00A53.03 46.90 0 0 1 99.97 150.00V150.00A53.03 45.15 0 0 1 153.00 104.85Z" fill="#bfbfbf"/><path d="M153.00 105.60H153.00A41.90 44.40 0 0 1 194.90 150.00V150.00A41.90 46.15 0 0 1 153.00 196.15H153.00A51.90 46.15 0 0 1 101.10 150.00V150.00A51.90 44.40 0 0 1 153.00 105.60Z" fill="#c2c2c2"/><path d="M153.00 106.48H153.00A41.15 43.52 0 0 1 194.15 150.00V150.00A41.15 45.52 0 0 1 153.00 195.52H153.00A50.65 45.52 0 0 1 102.35 150.00V150.00A50.65 43.52 0 0 1 153.00 106.48Z" fill="#c4c4c4"/><path d="M153.00 107.23H153.00A40.27 42.77 0 0 1 193.27 150.00V150.00A40.27 44.77 0 0 1 153.00 194.77H153.00A49.52 44.77 0 0 1 103.48 150.00V150.00A49.52 42.77 0 0 1 153.00 107.23Z" fill="#c7c7c7"/><path d="M153.00 108.10H153.00A39.39 41.90 0 0 1 192.39 150.00V150.00A39.39 44.15 0 0 1 153.00 194.15H153.00A48.40 44.15 0 0 1 104.60 150.00V150.00A48.40 41.90 0 0 1 153.00 108.10Z" fill="#c9c9c9"/><path d="M153.00 108.98H153.00A38.52 41.02 0 0 1 191.52 150.00V150.00A38.52 43.40 0 0 1 153.00 193.40H153.00A47.27 43.40 0 0 1 105.73 150.00V150.00A47.27 41.02 0 0 1 153.00 108.98Z" fill="#cccccc"/><path d="M153.00 109.98H153.00A37.64 40.02 0 0 1 190.64 150.00V150.00A37.64 42.52 0 0 1 153.00 192.52H153.00A46.15 42.52 0 0 1 106.85 150.00V150.00A46.15 40.02 0 0 1 153.00 109.98Z" fill="#cfcfcf"/><path d="M153.00 110.98H153.00A36.77 39.02 0 0 1 189.77 150.00V150.00A36.77 41.65 0 0 1 153.00 191.65H153.00A44.90 41.65 0 0 1 108.10 150.00V150.00A44.90 39.02 0 0 1 153.00 110.98Z" fill="#d1d1d1"/><path d="M153.00 112.11H153.00A35.89 37.89 0 0 1 188.89 150.00V150.00A35.89 40.52 0 0 1 153.00 190.52H153.00A43.77 40.52 0 0 1 109.23 150.00V150.00A43.77 37.89 0 0 1 153.00 112.11Z" fill="#d4d4d4"/><path d="M153.00 113.23H153.00A35.02 36.77 0 0 1 188.02 150.00V150.00A35.02 39.27 0 0 1 153.00 189.27H153.00A42.40 39.27 0 0 1 110.60 150.00V150.00A42.40 36.77 0 0 1 153.00 113.23Z" fill="#d6d6d6"/><path d="M153.00 114.61H153.00A34.14 35.39 0 0 1 187.14 150.00V150.00A34.14 37.89 0 0 1 153.00 187.89H153.00A40.90 37.89 0 0 1 112.10 150.00V150.00A40.90 35.39 0 0 1 153.00 114.61Z" fill="#d9d9d9"/><path d="M153.00 116.11H153.00A33.14 33.89 0 0 1 186.14 150.00V150.00A33.14 36.52 0 0 1 153.00 186.52H153.00A39.14 36.52 0 0 1 113.86 150.00V150.00A39.14 33.89 0 0 1 153.00 116.11Z" fill="#dbdbdb"/><path d="M153.00 117.86H153.00A32.02 32.14 0 0 1 185.02 150.00V150.00A32.02 34.89 0 0 1 153.00 184.89H153.00A36.89 34.89 0 0 1 116.11 150.00V150.00A36.89 32.14 0 0 1 153.00 117.86Z" fill="#dedede"/><path d="M153.00 119.61H153.00A30.89 30.39 0 0 1 183.89 150.00V150.00A30.89 33.02 0 0 1 153.00 183.02H153.00A34.39 33.02 0 0 1 118.61 150.00V150.00A34.39 30.39 0 0 1 153.00 119.61Z" fill="#e0e0e0"/><path d="M153.00 121.74H153.00A29.14 28.26 0 0 1 182.14 150.00V150.00A29.14 31.02 0 0 1 153.00 181.02H153.00A31.52 31.02 0 0 1 121.48 150.00V150.00A31.52 28.26 0 0 1 153.00 121.74Z" fill="#e3e3e3"/><path d="M153.00 124.11H153.00A27.26 25.89 0 0 1 180.26 150.00V150.00A27.26 29.01 0 0 1 153.00 179.01H153.00A28.64 29.01 0 0 1 124.36 150.00V150.00A28.64 25.89 0 0 1 153.00 124.11Z" fill="#e6e6e6"/><path d="M153.00 126.86H153.00A24.89 23.14 0 0 1 177.89 150.00V150.00A24.89 26.76 0 0 1 153.00 176.76H153.00A25.64 26.76 0 0 1 127.36 150.00V150.00A25.64 23.14 0 0 1 153.00 126.86Z" fill="#e8e8e8"/><path d="M153.00 129.99H153.00A22.01 20.01 0 0 1 175.01 150.00V150.00A22.01 24.01 0 0 1 153.00 174.01H153.00A22.14 24.01 0 0 1 130.86 150.00V150.00A22.14 20.01 0 0 1 153.00 129.99Z" fill="#ebebeb"/><path d="M153.00 134.12H153.00A17.88 15.88 0 0 1 170.88 150.00V150.00A17.88 19.76 0 0 1 153.00 169.76H153.00A17.63 19.76 0 0 1 135.37 150.00V150.00A17.63 15.88 0 0 1 153.00 134.12Z" fill="#ededed"/><path d="M153.00 138.87H153.00A13.13 11.13 0 0 1 166.13 150.00V150.00A13.13 14.63 0 0 1 153.00 164.63H153.00A12.38 14.63 0 0 1 140.62 150.00V150.00A12.38 11.13 0 0 1 153.00 138.87Z" fill="#f0f0f0"/><path d="M153.00 144.75H153.00A7.25 5.25 0 0 1 160.25 150.00V150.00A7.25 8.00 0 0 1 153.00 158.00H153.00A5.75 8.00 0 0 1 147.25 150.00V150.00A5.75 5.25 0 0 1 153.00 144.75Z" fill="#f2f2f2"/><path d="M153.00 150.00H153.00A0.00 0.00 0 0 1 153.00 150.00V150.00A0.00 0.00 0 0 1 153.00 150.00H153.00A0.00 0.00 0 0 1 153.00 150.00V150.00A0.00 0.00 0 0 1 153.00 150.00Z" fill="#f5f5f5"/><path d="M153.00 150.00H153.00A0.00 0.00 0 0 1 153.00 150.00V150.00A0.00 0.00 0 0 1 153.00 150.00H153.00A0.00 0.00 0 0 1 153.00 150.00V150.00A0.00 0.00 0 0 1 153.00 150.00Z" fill="#f7f7f7"/></g>
</g>
<rect x="0" y="150.75" width="304" height="1.3" fill="#fff"/>
<rect x="150.75" y="0" width="1.5" height="304" fill="#fff"/>
<rect x="6.90" y="149.10" width="1.2" height="4.6" fill="#fff"/>
<rect x="149.20" y="6.80" width="4.6" height="1.2" fill="#fff"/>
<rect x="24.90" y="149.10" width="1.2" height="4.6" fill="#fff"/>
<rect x="149.20" y="24.80" width="4.6" height="1.2" fill="#fff"/>
<rect x="42.90" y="149.10" width="1.2" height="4.6" fill="#fff"/>
<rect x="149.20" y="42.80" width="4.6" height="1.2" fill="#fff"/>
<rect x="60.60" y="147.20" width="1.8" height="8.4" fill="#fff"/>
<rect x="147.30" y="60.50" width="8.4" height="1.8" fill="#fff"/>
<rect x="78.90" y="149.10" width="1.2" height="4.6" fill="#fff"/>
<rect x="149.20" y="78.80" width="4.6" height="1.2" fill="#fff"/>
<rect x="96.90" y="149.10" width="1.2" height="4.6" fill="#fff"/>
<rect x="149.20" y="96.80" width="4.6" height="1.2" fill="#fff"/>
<rect x="114.90" y="149.10" width="1.2" height="4.6" fill="#fff"/>
<rect x="149.20" y="114.80" width="4.6" height="1.2" fill="#fff"/>
<rect x="132.90" y="149.10" width="1.2" height="4.6" fill="#fff"/>
<rect x="149.20" y="132.80" width="4.6" height="1.2" fill="#fff"/>
<rect x="168.90" y="149.10" width="1.2" height="4.6" fill="#fff"/>
<rect x="149.20" y="168.80" width="4.6" height="1.2" fill="#fff"/>
<rect x="186.90" y="149.10" width="1.2" height="4.6" fill="#fff"/>
<rect x="149.20" y="186.80" width="4.6" height="1.2" fill="#fff"/>
<rect x="204.90" y="149.10" width="1.2" height="4.6" fill="#fff"/>
<rect x="149.20" y="204.80" width="4.6" height="1.2" fill="#fff"/>
<rect x="222.90" y="149.10" width="1.2" height="4.6" fill="#fff"/>
<rect x="149.20" y="222.80" width="4.6" height="1.2" fill="#fff"/>
<rect x="240.60" y="147.20" width="1.8" height="8.4" fill="#fff"/>
<rect x="147.30" y="240.50" width="8.4" height="1.8" fill="#fff"/>
<rect x="258.90" y="149.10" width="1.2" height="4.6" fill="#fff"/>
<rect x="149.20" y="258.80" width="4.6" height="1.2" fill="#fff"/>
<rect x="276.90" y="149.10" width="1.2" height="4.6" fill="#fff"/>
<rect x="149.20" y="276.80" width="4.6" height="1.2" fill="#fff"/>
<rect x="294.90" y="149.10" width="1.2" height="4.6" fill="#fff"/>
<rect x="149.20" y="294.80" width="4.6" height="1.2" fill="#fff"/>
<rect x="8.9" y="284.85" width="90" height="1" fill="#bbb"/>
<rect x="7.90" y="281.35" width="2" height="8" fill="#fff"/>
<rect x="26.30" y="283.15000000000003" width="1.2" height="4.5" fill="#ddd"/>
<rect x="44.30" y="283.15000000000003" width="1.2" height="4.5" fill="#ddd"/>
<rect x="62.30" y="283.15000000000003" width="1.2" height="4.5" fill="#ddd"/>
<rect x="80.30" y="283.15000000000003" width="1.2" height="4.5" fill="#ddd"/>
<rect x="97.90" y="281.35" width="2" height="8" fill="#fff"/>
<text x="37.3" y="300.1" font-size="12.7" word-spacing="3" fill="#fff" stroke="#fff" stroke-width="0.3" font-family='"Liberation Sans", sans-serif'>100 mm</text>
<linearGradient id="cb3" x1="0" x2="1" y1="0" y2="0"><stop offset="0.0000" stop-color="rgb(0,0,3)"/><stop offset="0.0625" stop-color="rgb(10,7,35)"/><stop offset="0.1250" stop-color="rgb(32,12,74)"/><stop offset="0.1875" stop-color="rgb(60,9,101)"/><stop offset="0.2500" stop-color="rgb(87,15,109)"/><stop offset="0.3125" stop-color="rgb(112,25,110)"/><stop offset="0.3750" stop-color="rgb(137,34,105)"/><stop offset="0.4375" stop-color="rgb(163,43,97)"/><stop offset="0.5000" stop-color="rgb(187,55,84)"/><stop offset="0.5625" stop-color="rgb(209,70,67)"/><stop offset="0.6250" stop-color="rgb(228,90,49)"/><stop offset="0.6875" stop-color="rgb(241,114,29)"/><stop offset="0.7500" stop-color="rgb(249,142,8)"/><stop offset="0.8125" stop-color="rgb(251,172,16)"/><stop offset="0.8750" stop-color="rgb(248,203,52)"/><stop offset="0.9375" stop-color="rgb(241,233,104)"/><stop offset="1.0000" stop-color="rgb(252,254,164)"/></linearGradient>
<rect x="189.7" y="279.4" width="91.0" height="6.3" fill="url(#cb3)"/>
<rect x="189.10" y="283" width="1.2" height="4.5" fill="#ccc"/>
<rect x="210.97" y="283" width="1.2" height="4.5" fill="#ccc"/>
<rect x="232.85" y="283" width="1.2" height="4.5" fill="#ccc"/>
<rect x="254.72" y="283" width="1.2" height="4.5" fill="#ccc"/>
<rect x="276.60" y="283" width="1.2" height="4.5" fill="#ccc"/>
<rect x="280.10" y="283" width="1.2" height="4.5" fill="#ccc"/>
<text x="186" y="300.1" font-size="12.7" fill="#fff" stroke="#fff" stroke-width="0.3" font-family='"Liberation Sans", sans-serif'>0</text>
<text x="230" y="300.1" font-size="12.7" fill="#fff" stroke="#fff" stroke-width="0.3" font-family='"Liberation Sans", sans-serif'>klux</text>
<text x="270.8" y="300.1" font-size="12.7" fill="#fff" stroke="#fff" stroke-width="0.3" font-family='"Liberation Sans", sans-serif'>4,16</text>
</g>
</svg></div>
<div class="lbl" style="left:141.3px">LWD = 10 mm</div>
<div class="lbl" style="left:647px">LWD = 50 mm</div>
<div class="lbl" style="left:1134.4px">LWD = 90 mm</div>
</body></html>
